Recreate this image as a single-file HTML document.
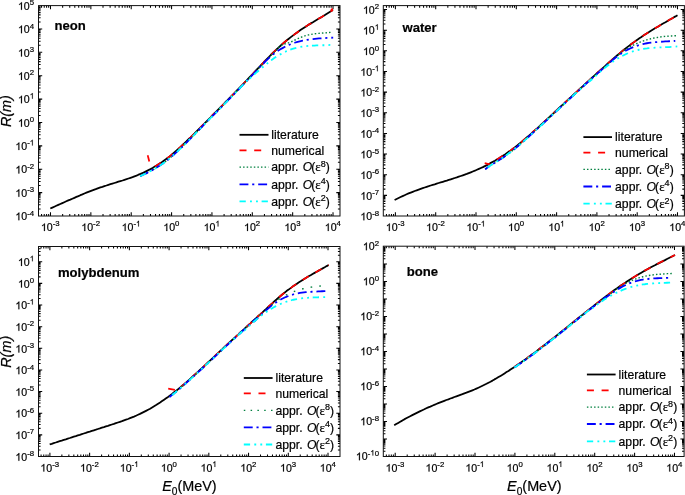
<!DOCTYPE html>
<html><head><meta charset="utf-8"><title>Range vs energy</title>
<style>
html,body{margin:0;padding:0;background:#fff;}
body{width:685px;height:495px;overflow:hidden;}
svg text{font-family:"Liberation Sans",sans-serif;fill:#000;stroke:#000;stroke-width:0.2px;}
</style></head><body>
<svg width="685" height="495" viewBox="0 0 685 495" style="display:block;will-change:transform;opacity:0.999">
<rect width="685" height="495" fill="#fff"/>
<g><path d="M41.55 216.00v-2.10M41.55 5.60v2.10M44.25 216.00v-2.10M44.25 5.60v2.10M46.59 216.00v-2.10M46.59 5.60v2.10M48.65 216.00v-2.10M48.65 5.60v2.10M50.50 216.00v-3.70M50.50 5.60v3.70M62.65 216.00v-2.10M62.65 5.60v2.10M69.76 216.00v-2.10M69.76 5.60v2.10M74.80 216.00v-2.10M74.80 5.60v2.10M78.71 216.00v-2.10M78.71 5.60v2.10M81.91 216.00v-2.10M81.91 5.60v2.10M84.61 216.00v-2.10M84.61 5.60v2.10M86.95 216.00v-2.10M86.95 5.60v2.10M89.01 216.00v-2.10M89.01 5.60v2.10M90.86 216.00v-3.70M90.86 5.60v3.70M103.01 216.00v-2.10M103.01 5.60v2.10M110.12 216.00v-2.10M110.12 5.60v2.10M115.16 216.00v-2.10M115.16 5.60v2.10M119.07 216.00v-2.10M119.07 5.60v2.10M122.27 216.00v-2.10M122.27 5.60v2.10M124.97 216.00v-2.10M124.97 5.60v2.10M127.31 216.00v-2.10M127.31 5.60v2.10M129.37 216.00v-2.10M129.37 5.60v2.10M131.22 216.00v-3.70M131.22 5.60v3.70M143.37 216.00v-2.10M143.37 5.60v2.10M150.48 216.00v-2.10M150.48 5.60v2.10M155.52 216.00v-2.10M155.52 5.60v2.10M159.43 216.00v-2.10M159.43 5.60v2.10M162.63 216.00v-2.10M162.63 5.60v2.10M165.33 216.00v-2.10M165.33 5.60v2.10M167.67 216.00v-2.10M167.67 5.60v2.10M169.73 216.00v-2.10M169.73 5.60v2.10M171.58 216.00v-3.70M171.58 5.60v3.70M183.73 216.00v-2.10M183.73 5.60v2.10M190.84 216.00v-2.10M190.84 5.60v2.10M195.88 216.00v-2.10M195.88 5.60v2.10M199.79 216.00v-2.10M199.79 5.60v2.10M202.99 216.00v-2.10M202.99 5.60v2.10M205.69 216.00v-2.10M205.69 5.60v2.10M208.03 216.00v-2.10M208.03 5.60v2.10M210.09 216.00v-2.10M210.09 5.60v2.10M211.94 216.00v-3.70M211.94 5.60v3.70M224.09 216.00v-2.10M224.09 5.60v2.10M231.20 216.00v-2.10M231.20 5.60v2.10M236.24 216.00v-2.10M236.24 5.60v2.10M240.15 216.00v-2.10M240.15 5.60v2.10M243.35 216.00v-2.10M243.35 5.60v2.10M246.05 216.00v-2.10M246.05 5.60v2.10M248.39 216.00v-2.10M248.39 5.60v2.10M250.45 216.00v-2.10M250.45 5.60v2.10M252.30 216.00v-3.70M252.30 5.60v3.70M264.45 216.00v-2.10M264.45 5.60v2.10M271.56 216.00v-2.10M271.56 5.60v2.10M276.60 216.00v-2.10M276.60 5.60v2.10M280.51 216.00v-2.10M280.51 5.60v2.10M283.71 216.00v-2.10M283.71 5.60v2.10M286.41 216.00v-2.10M286.41 5.60v2.10M288.75 216.00v-2.10M288.75 5.60v2.10M290.81 216.00v-2.10M290.81 5.60v2.10M292.66 216.00v-3.70M292.66 5.60v3.70M304.81 216.00v-2.10M304.81 5.60v2.10M311.92 216.00v-2.10M311.92 5.60v2.10M316.96 216.00v-2.10M316.96 5.60v2.10M320.87 216.00v-2.10M320.87 5.60v2.10M324.07 216.00v-2.10M324.07 5.60v2.10M326.77 216.00v-2.10M326.77 5.60v2.10M329.11 216.00v-2.10M329.11 5.60v2.10M331.17 216.00v-2.10M331.17 5.60v2.10M333.02 216.00v-3.70M333.02 5.60v3.70M38.50 208.96h2.10M340.00 208.96h-2.10M38.50 204.84h2.10M340.00 204.84h-2.10M38.50 201.92h2.10M340.00 201.92h-2.10M38.50 199.66h2.10M340.00 199.66h-2.10M38.50 197.81h2.10M340.00 197.81h-2.10M38.50 196.24h2.10M340.00 196.24h-2.10M38.50 194.89h2.10M340.00 194.89h-2.10M38.50 193.69h2.10M340.00 193.69h-2.10M38.50 192.62h3.70M340.00 192.62h-3.70M38.50 185.58h2.10M340.00 185.58h-2.10M38.50 181.46h2.10M340.00 181.46h-2.10M38.50 178.54h2.10M340.00 178.54h-2.10M38.50 176.28h2.10M340.00 176.28h-2.10M38.50 174.43h2.10M340.00 174.43h-2.10M38.50 172.86h2.10M340.00 172.86h-2.10M38.50 171.51h2.10M340.00 171.51h-2.10M38.50 170.31h2.10M340.00 170.31h-2.10M38.50 169.24h3.70M340.00 169.24h-3.70M38.50 162.20h2.10M340.00 162.20h-2.10M38.50 158.08h2.10M340.00 158.08h-2.10M38.50 155.16h2.10M340.00 155.16h-2.10M38.50 152.90h2.10M340.00 152.90h-2.10M38.50 151.05h2.10M340.00 151.05h-2.10M38.50 149.48h2.10M340.00 149.48h-2.10M38.50 148.13h2.10M340.00 148.13h-2.10M38.50 146.93h2.10M340.00 146.93h-2.10M38.50 145.86h3.70M340.00 145.86h-3.70M38.50 138.82h2.10M340.00 138.82h-2.10M38.50 134.70h2.10M340.00 134.70h-2.10M38.50 131.78h2.10M340.00 131.78h-2.10M38.50 129.52h2.10M340.00 129.52h-2.10M38.50 127.67h2.10M340.00 127.67h-2.10M38.50 126.10h2.10M340.00 126.10h-2.10M38.50 124.75h2.10M340.00 124.75h-2.10M38.50 123.55h2.10M340.00 123.55h-2.10M38.50 122.48h3.70M340.00 122.48h-3.70M38.50 115.44h2.10M340.00 115.44h-2.10M38.50 111.32h2.10M340.00 111.32h-2.10M38.50 108.40h2.10M340.00 108.40h-2.10M38.50 106.14h2.10M340.00 106.14h-2.10M38.50 104.29h2.10M340.00 104.29h-2.10M38.50 102.72h2.10M340.00 102.72h-2.10M38.50 101.37h2.10M340.00 101.37h-2.10M38.50 100.17h2.10M340.00 100.17h-2.10M38.50 99.10h3.70M340.00 99.10h-3.70M38.50 92.06h2.10M340.00 92.06h-2.10M38.50 87.94h2.10M340.00 87.94h-2.10M38.50 85.02h2.10M340.00 85.02h-2.10M38.50 82.76h2.10M340.00 82.76h-2.10M38.50 80.91h2.10M340.00 80.91h-2.10M38.50 79.34h2.10M340.00 79.34h-2.10M38.50 77.99h2.10M340.00 77.99h-2.10M38.50 76.79h2.10M340.00 76.79h-2.10M38.50 75.72h3.70M340.00 75.72h-3.70M38.50 68.68h2.10M340.00 68.68h-2.10M38.50 64.56h2.10M340.00 64.56h-2.10M38.50 61.64h2.10M340.00 61.64h-2.10M38.50 59.38h2.10M340.00 59.38h-2.10M38.50 57.53h2.10M340.00 57.53h-2.10M38.50 55.96h2.10M340.00 55.96h-2.10M38.50 54.61h2.10M340.00 54.61h-2.10M38.50 53.41h2.10M340.00 53.41h-2.10M38.50 52.34h3.70M340.00 52.34h-3.70M38.50 45.30h2.10M340.00 45.30h-2.10M38.50 41.18h2.10M340.00 41.18h-2.10M38.50 38.26h2.10M340.00 38.26h-2.10M38.50 36.00h2.10M340.00 36.00h-2.10M38.50 34.15h2.10M340.00 34.15h-2.10M38.50 32.58h2.10M340.00 32.58h-2.10M38.50 31.23h2.10M340.00 31.23h-2.10M38.50 30.03h2.10M340.00 30.03h-2.10M38.50 28.96h3.70M340.00 28.96h-3.70M38.50 21.92h2.10M340.00 21.92h-2.10M38.50 17.80h2.10M340.00 17.80h-2.10M38.50 14.88h2.10M340.00 14.88h-2.10M38.50 12.62h2.10M340.00 12.62h-2.10M38.50 10.77h2.10M340.00 10.77h-2.10M38.50 9.20h2.10M340.00 9.20h-2.10M38.50 7.85h2.10M340.00 7.85h-2.10M38.50 6.65h2.10M340.00 6.65h-2.10" stroke="#000" stroke-width="1.05" fill="none"/>
<rect x="38.50" y="5.60" width="301.50" height="210.40" fill="none" stroke="#111" stroke-width="1.00"/>
<path d="M763 0H583V1147Q518 1085 412.5 1023T223 930V1104Q374 1175 487 1276T647 1472H763Z" transform="translate(40.94 231.00) scale(0.00518 -0.00518)" fill="#000" stroke="#000" stroke-width="40"/><text x="46.83" y="231.00" font-size="10.6">0</text><text x="52.73" y="226.40" font-size="7.8">-3</text>
<path d="M763 0H583V1147Q518 1085 412.5 1023T223 930V1104Q374 1175 487 1276T647 1472H763Z" transform="translate(81.30 231.00) scale(0.00518 -0.00518)" fill="#000" stroke="#000" stroke-width="40"/><text x="87.19" y="231.00" font-size="10.6">0</text><text x="93.09" y="226.40" font-size="7.8">-2</text>
<path d="M763 0H583V1147Q518 1085 412.5 1023T223 930V1104Q374 1175 487 1276T647 1472H763Z" transform="translate(121.66 231.00) scale(0.00518 -0.00518)" fill="#000" stroke="#000" stroke-width="40"/><text x="127.55" y="231.00" font-size="10.6">0</text><text x="133.45" y="226.40" font-size="7.8">-</text><path d="M763 0H583V1147Q518 1085 412.5 1023T223 930V1104Q374 1175 487 1276T647 1472H763Z" transform="translate(136.04 226.40) scale(0.00381 -0.00381)" fill="#000" stroke="#000" stroke-width="40"/>
<path d="M763 0H583V1147Q518 1085 412.5 1023T223 930V1104Q374 1175 487 1276T647 1472H763Z" transform="translate(163.32 231.00) scale(0.00518 -0.00518)" fill="#000" stroke="#000" stroke-width="40"/><text x="169.21" y="231.00" font-size="10.6">0</text><text x="175.11" y="226.40" font-size="7.8">0</text>
<path d="M763 0H583V1147Q518 1085 412.5 1023T223 930V1104Q374 1175 487 1276T647 1472H763Z" transform="translate(203.68 231.00) scale(0.00518 -0.00518)" fill="#000" stroke="#000" stroke-width="40"/><text x="209.57" y="231.00" font-size="10.6">0</text><path d="M763 0H583V1147Q518 1085 412.5 1023T223 930V1104Q374 1175 487 1276T647 1472H763Z" transform="translate(215.47 226.40) scale(0.00381 -0.00381)" fill="#000" stroke="#000" stroke-width="40"/>
<path d="M763 0H583V1147Q518 1085 412.5 1023T223 930V1104Q374 1175 487 1276T647 1472H763Z" transform="translate(244.04 231.00) scale(0.00518 -0.00518)" fill="#000" stroke="#000" stroke-width="40"/><text x="249.93" y="231.00" font-size="10.6">0</text><text x="255.83" y="226.40" font-size="7.8">2</text>
<path d="M763 0H583V1147Q518 1085 412.5 1023T223 930V1104Q374 1175 487 1276T647 1472H763Z" transform="translate(284.40 231.00) scale(0.00518 -0.00518)" fill="#000" stroke="#000" stroke-width="40"/><text x="290.29" y="231.00" font-size="10.6">0</text><text x="296.19" y="226.40" font-size="7.8">3</text>
<path d="M763 0H583V1147Q518 1085 412.5 1023T223 930V1104Q374 1175 487 1276T647 1472H763Z" transform="translate(324.76 231.00) scale(0.00518 -0.00518)" fill="#000" stroke="#000" stroke-width="40"/><text x="330.65" y="231.00" font-size="10.6">0</text><text x="336.55" y="226.40" font-size="7.8">4</text>
<path d="M763 0H583V1147Q518 1085 412.5 1023T223 930V1104Q374 1175 487 1276T647 1472H763Z" transform="translate(15.38 220.20) scale(0.00518 -0.00518)" fill="#000" stroke="#000" stroke-width="40"/><text x="21.27" y="220.20" font-size="10.6">0</text><text x="27.17" y="215.60" font-size="7.8">-4</text>
<path d="M763 0H583V1147Q518 1085 412.5 1023T223 930V1104Q374 1175 487 1276T647 1472H763Z" transform="translate(15.38 196.82) scale(0.00518 -0.00518)" fill="#000" stroke="#000" stroke-width="40"/><text x="21.27" y="196.82" font-size="10.6">0</text><text x="27.17" y="192.22" font-size="7.8">-3</text>
<path d="M763 0H583V1147Q518 1085 412.5 1023T223 930V1104Q374 1175 487 1276T647 1472H763Z" transform="translate(15.38 173.44) scale(0.00518 -0.00518)" fill="#000" stroke="#000" stroke-width="40"/><text x="21.27" y="173.44" font-size="10.6">0</text><text x="27.17" y="168.84" font-size="7.8">-2</text>
<path d="M763 0H583V1147Q518 1085 412.5 1023T223 930V1104Q374 1175 487 1276T647 1472H763Z" transform="translate(15.38 150.06) scale(0.00518 -0.00518)" fill="#000" stroke="#000" stroke-width="40"/><text x="21.27" y="150.06" font-size="10.6">0</text><text x="27.17" y="145.46" font-size="7.8">-</text><path d="M763 0H583V1147Q518 1085 412.5 1023T223 930V1104Q374 1175 487 1276T647 1472H763Z" transform="translate(29.76 145.46) scale(0.00381 -0.00381)" fill="#000" stroke="#000" stroke-width="40"/>
<path d="M763 0H583V1147Q518 1085 412.5 1023T223 930V1104Q374 1175 487 1276T647 1472H763Z" transform="translate(17.98 126.68) scale(0.00518 -0.00518)" fill="#000" stroke="#000" stroke-width="40"/><text x="23.87" y="126.68" font-size="10.6">0</text><text x="29.76" y="122.08" font-size="7.8">0</text>
<path d="M763 0H583V1147Q518 1085 412.5 1023T223 930V1104Q374 1175 487 1276T647 1472H763Z" transform="translate(17.98 103.30) scale(0.00518 -0.00518)" fill="#000" stroke="#000" stroke-width="40"/><text x="23.87" y="103.30" font-size="10.6">0</text><path d="M763 0H583V1147Q518 1085 412.5 1023T223 930V1104Q374 1175 487 1276T647 1472H763Z" transform="translate(29.76 98.70) scale(0.00381 -0.00381)" fill="#000" stroke="#000" stroke-width="40"/>
<path d="M763 0H583V1147Q518 1085 412.5 1023T223 930V1104Q374 1175 487 1276T647 1472H763Z" transform="translate(17.98 79.92) scale(0.00518 -0.00518)" fill="#000" stroke="#000" stroke-width="40"/><text x="23.87" y="79.92" font-size="10.6">0</text><text x="29.76" y="75.32" font-size="7.8">2</text>
<path d="M763 0H583V1147Q518 1085 412.5 1023T223 930V1104Q374 1175 487 1276T647 1472H763Z" transform="translate(17.98 56.54) scale(0.00518 -0.00518)" fill="#000" stroke="#000" stroke-width="40"/><text x="23.87" y="56.54" font-size="10.6">0</text><text x="29.76" y="51.94" font-size="7.8">3</text>
<path d="M763 0H583V1147Q518 1085 412.5 1023T223 930V1104Q374 1175 487 1276T647 1472H763Z" transform="translate(17.98 33.16) scale(0.00518 -0.00518)" fill="#000" stroke="#000" stroke-width="40"/><text x="23.87" y="33.16" font-size="10.6">0</text><text x="29.76" y="28.56" font-size="7.8">4</text>
<path d="M763 0H583V1147Q518 1085 412.5 1023T223 930V1104Q374 1175 487 1276T647 1472H763Z" transform="translate(17.98 9.78) scale(0.00518 -0.00518)" fill="#000" stroke="#000" stroke-width="40"/><text x="23.87" y="9.78" font-size="10.6">0</text><text x="29.76" y="5.18" font-size="7.8">5</text>
<text x="54.6" y="29.7" font-size="13.1" font-weight="bold">neon</text>
<text transform="translate(10.6 111.1) rotate(-90)" text-anchor="middle" font-size="14.4" font-style="italic">R(m)</text>
<path d="M50.3 208.5 L52.3 207.6 L54.3 206.7 L56.3 205.8 L58.3 204.9 L60.3 204.0 L62.3 203.1 L64.3 202.2 L66.3 201.3 L68.3 200.4 L70.3 199.6 L72.3 198.7 L74.4 197.8 L76.4 196.9 L78.4 196.1 L80.4 195.2 L82.4 194.4 L84.4 193.5 L86.4 192.7 L88.4 191.9 L90.4 191.1 L92.4 190.3 L94.4 189.6 L96.4 188.9 L98.4 188.1 L100.4 187.4 L102.4 186.8 L104.4 186.1 L106.4 185.5 L108.4 184.8 L110.4 184.2 L112.4 183.6 L114.4 183.0 L116.4 182.4 L118.4 181.7 L120.4 181.1 L122.5 180.5 L124.5 179.8 L126.5 179.2 L128.5 178.5 L130.5 177.8 L132.5 177.1 L134.5 176.3 L136.5 175.6 L138.5 174.7 L140.5 173.9 L142.5 173.0 L144.5 172.1 L146.5 171.1 L148.5 170.1 L150.5 169.1 L152.5 168.0 L154.5 166.8 L156.5 165.6 L158.5 164.3 L160.5 163.0 L162.5 161.7 L164.5 160.2 L166.5 158.8 L168.6 157.2 L170.6 155.6 L172.6 153.9 L174.6 152.2 L176.6 150.5 L178.6 148.7 L180.6 146.9 L182.6 145.0 L184.6 143.1 L186.6 141.2 L188.6 139.2 L190.6 137.3 L192.6 135.3 L194.6 133.4 L196.6 131.4 L198.6 129.4 L200.6 127.4 L202.6 125.4 L204.6 123.4 L206.6 121.3 L208.6 119.3 L210.6 117.3 L212.6 115.2 L214.6 113.2 L216.7 111.2 L218.7 109.1 L220.7 107.1 L222.7 105.1 L224.7 103.0 L226.7 101.0 L228.7 98.9 L230.7 96.9 L232.7 94.8 L234.7 92.8 L236.7 90.7 L238.7 88.7 L240.7 86.6 L242.7 84.5 L244.7 82.4 L246.7 80.3 L248.7 78.2 L250.7 76.1 L252.7 74.0 L254.7 71.9 L256.7 69.7 L258.7 67.6 L260.7 65.5 L262.8 63.4 L264.8 61.2 L266.8 59.1 L268.8 57.1 L270.8 55.0 L272.8 53.0 L274.8 51.1 L276.8 49.2 L278.8 47.3 L280.8 45.5 L282.8 43.7 L284.8 42.0 L286.8 40.3 L288.8 38.7 L290.8 37.1 L292.8 35.6 L294.8 34.1 L296.8 32.7 L298.8 31.2 L300.8 29.8 L302.8 28.5 L304.8 27.2 L306.8 25.9 L308.8 24.6 L310.9 23.4 L312.9 22.2 L314.9 20.9 L316.9 19.7 L318.9 18.5 L320.9 17.4 L322.9 16.2 L324.9 15.0 L326.9 13.7 L328.9 12.5 L330.9 11.3 L332.9 10.0" stroke="#000" stroke-width="1.8" fill="none" stroke-linejoin="round"/>
<path d="M147.7 155.2 L149.3 161.5" stroke="#ff0000" stroke-width="1.7" fill="none"/>
<path d="M155.0 166.5 L156.5 165.6 L158.5 164.3 L160.5 163.0 L162.5 161.7 L164.5 160.2 L166.5 158.8 L168.6 157.2 L170.6 155.6 L172.6 153.9 L174.6 152.2 L176.6 150.5 L178.6 148.7 L180.6 146.9 L182.6 145.0 L184.6 143.1 L186.6 141.2 L188.6 139.2 L190.6 137.3 L192.6 135.3 L194.6 133.4 L196.6 131.4 L198.6 129.4 L200.6 127.4 L202.6 125.4 L204.6 123.4 L206.6 121.3 L208.6 119.3 L210.6 117.3 L212.6 115.2 L214.6 113.2 L216.7 111.2 L218.7 109.1 L220.7 107.1 L222.7 105.1 L224.7 103.0 L226.7 101.0 L228.7 98.9 L230.7 96.9 L232.7 94.8 L234.7 92.8 L236.7 90.7 L238.7 88.7 L240.7 86.6 L242.7 84.5 L244.7 82.4 L246.7 80.3 L248.7 78.2 L250.7 76.1 L252.7 74.0 L254.7 71.9 L256.7 69.7 L258.7 67.6 L260.7 65.5 L262.8 63.4 L264.8 61.2 L266.8 59.1 L268.8 57.1 L270.8 55.0 L272.8 53.0 L274.8 51.1 L276.8 49.2 L278.8 47.3 L280.8 45.5 L282.8 43.7 L284.8 42.0 L286.8 40.3 L288.8 38.7 L290.8 37.1 L292.8 35.6 L294.8 34.1 L296.8 32.7 L298.8 31.2 L300.8 29.8 L302.8 28.5 L304.8 27.2 L306.8 25.9 L308.8 24.6 L310.9 23.4 L312.9 22.2 L314.9 20.9 L316.9 19.7 L318.9 18.5 L320.9 17.4 L322.9 16.2 L324.9 15.0 L326.9 13.7 L328.9 12.5 L330.9 11.3 L332.9 10.0" stroke="#ff0000" stroke-width="1.7" fill="none" stroke-dasharray="7 7.7" stroke-dashoffset="0"/>
<path d="M330.9 10.6 L332.6 8.4" stroke="#ff0000" stroke-width="1.7" fill="none"/>
<path d="M139.9 175.8 L141.9 174.9 L143.9 173.9 L145.9 173.0 L147.9 171.9 L149.9 170.9 L151.9 169.8 L153.9 168.7 L155.9 167.5 L157.9 166.2 L159.9 164.9 L161.9 163.6 L163.9 162.2 L165.9 160.7 L167.9 159.1 L169.9 157.4 L171.9 155.7 L173.9 153.9 L175.9 152.1 L177.9 150.3 L179.9 148.4 L181.9 146.5 L183.9 144.5 L185.9 142.5 L187.9 140.5 L189.9 138.5 L191.9 136.5 L193.9 134.5 L195.9 132.4 L197.9 130.4 L199.9 128.3 L201.9 126.2 L203.9 124.1 L205.0 123.0 L205.0 123.0 L206.6 121.3 L208.6 119.3 L210.6 117.3 L212.6 115.2 L214.6 113.2 L216.7 111.2 L218.7 109.1 L220.7 107.1 L222.7 105.1 L224.7 103.0 L226.7 101.0 L228.7 98.9 L230.7 96.9 L232.7 94.8 L234.7 92.8 L236.7 90.7 L238.7 88.7 L240.7 86.6 L242.7 84.5 L244.7 82.4 L246.7 80.3 L248.7 78.2 L250.7 76.1 L252.7 74.0 L254.7 71.9 L256.7 69.7 L258.7 67.6 L260.7 65.5 L262.8 63.4 L264.8 61.2 L266.8 59.1 L268.8 57.1 L270.8 55.0 L272.8 53.0 L274.8 51.1 L276.8 49.2 L277.9 48.1 L277.9 47.6 L279.9 45.8 L282.0 44.6 L284.0 43.8 L286.0 43.2 L288.1 42.5 L290.1 41.8 L292.1 40.9 L294.2 39.9 L296.2 38.9 L298.2 38.0 L300.3 37.1 L302.3 36.3 L304.4 35.6 L306.4 35.0 L308.4 34.5 L310.5 34.1 L312.5 33.7 L314.5 33.4 L316.6 33.2 L318.6 33.0 L320.6 32.9 L322.7 32.7 L324.7 32.5 L326.7 32.4 L328.8 32.2 L330.8 32.0" stroke="#00803f" stroke-width="1.4" fill="none" stroke-dasharray="1.5 2.08" stroke-dashoffset="0" transform="translate(0.3 0.35)"/>
<path d="M139.9 175.8 L141.9 174.9 L143.9 173.9 L145.9 173.0 L147.9 171.9 L149.9 170.9 L151.9 169.8 L153.9 168.7 L155.9 167.5 L157.9 166.2 L159.9 164.9 L161.9 163.6 L163.9 162.2 L165.9 160.7 L167.9 159.1 L169.9 157.4 L171.9 155.7 L173.9 153.9 L175.9 152.1 L177.9 150.3 L179.9 148.4 L181.9 146.5 L183.9 144.5 L185.9 142.5 L187.9 140.5 L189.9 138.5 L191.9 136.5 L193.9 134.5 L195.9 132.4 L197.9 130.4 L199.9 128.3 L201.9 126.2 L203.9 124.1 L205.0 123.0 L205.0 123.0 L206.6 121.3 L208.6 119.3 L210.6 117.3 L212.6 115.2 L214.6 113.2 L216.7 111.2 L218.7 109.1 L220.7 107.1 L222.7 105.1 L224.7 103.0 L226.7 101.0 L228.7 98.9 L230.7 96.9 L232.7 94.8 L234.7 92.8 L236.7 90.7 L238.7 88.7 L240.7 86.6 L242.7 84.5 L244.7 82.4 L246.7 80.3 L248.7 78.2 L250.7 76.1 L252.7 74.0 L254.7 71.9 L256.7 69.7 L258.7 67.6 L260.7 65.5 L262.8 63.4 L263.9 62.2 L263.9 62.3 L265.9 60.2 L268.0 58.3 L270.0 56.4 L272.0 54.7 L274.0 53.1 L276.1 51.6 L278.1 50.2 L280.1 49.0 L282.2 47.8 L284.2 46.7 L286.2 45.7 L288.3 44.7 L290.3 43.9 L292.3 43.1 L294.3 42.4 L296.4 41.8 L298.4 41.2 L300.4 40.7 L302.5 40.3 L304.5 39.9 L306.5 39.5 L308.5 39.2 L310.6 38.9 L312.6 38.7 L314.6 38.5 L316.7 38.3 L318.7 38.1 L320.7 38.0 L322.8 37.9 L324.8 37.8 L326.8 37.6 L328.8 37.5 L330.9 37.4 L332.9 37.3" stroke="#0000ff" stroke-width="1.8" fill="none" stroke-dasharray="8.9 3.8 2.1 3.9" stroke-dashoffset="0" transform="translate(0.3 0.35)"/>
<path d="M139.9 175.8 L141.9 174.9 L143.9 173.9 L145.9 173.0 L147.9 171.9 L149.9 170.9 L151.9 169.8 L153.9 168.7 L155.9 167.5 L157.9 166.2 L159.9 164.9 L161.9 163.6 L163.9 162.2 L165.9 160.7 L167.9 159.1 L169.9 157.4 L171.9 155.7 L173.9 153.9 L175.9 152.1 L177.9 150.3 L179.9 148.4 L181.9 146.5 L183.9 144.5 L185.9 142.5 L187.9 140.5 L189.9 138.5 L191.9 136.5 L193.9 134.5 L195.9 132.4 L197.9 130.4 L199.9 128.3 L201.9 126.2 L203.9 124.1 L205.0 123.0 L205.0 123.0 L206.6 121.3 L208.6 119.3 L210.6 117.3 L212.6 115.2 L214.6 113.2 L216.7 111.2 L218.7 109.1 L220.7 107.1 L222.7 105.1 L224.7 103.0 L226.7 101.0 L228.7 98.9 L230.7 96.9 L232.7 94.8 L234.7 92.8 L236.7 90.7 L238.7 88.7 L240.7 86.6 L242.7 84.5 L244.7 82.4 L246.7 80.3 L248.7 78.2 L250.0 76.9 L250.0 77.6 L252.0 75.9 L254.0 74.1 L256.0 72.3 L258.0 70.6 L260.0 68.8 L262.0 67.1 L264.0 65.4 L266.0 63.8 L268.0 62.2 L270.0 60.6 L272.0 59.1 L274.0 57.7 L276.0 56.4 L278.0 55.2 L280.0 54.0 L282.0 52.9 L284.0 51.9 L286.0 50.9 L288.0 50.1 L290.1 49.3 L292.1 48.6 L294.1 48.0 L296.1 47.5 L298.1 47.0 L300.1 46.6 L302.1 46.3 L304.1 46.0 L306.1 45.8 L308.1 45.6 L310.1 45.4 L312.1 45.3 L314.1 45.2 L316.1 45.1 L318.1 45.1 L320.1 45.0 L322.1 44.9 L324.1 44.9 L326.1 44.8 L328.1 44.7 L330.1 44.6" stroke="#00ffff" stroke-width="1.8" fill="none" stroke-dasharray="6.3 4.2 1.9 4.1 1.9 3.7" stroke-dashoffset="0" transform="translate(0.3 0.35)"/>
<path d="M239.5 134.8H268.5" stroke="#000" stroke-width="1.8"/>
<text x="271.3" y="139.1" font-size="12.2">literature</text>
<path d="M239.5 150.4H268.5" stroke="#ff0000" stroke-width="1.7" stroke-dasharray="7 7.7"/>
<text x="271.3" y="154.7" font-size="12.2">numerical</text>
<path d="M239.5 167.1H268.5" stroke="#00803f" stroke-width="1.4" stroke-dasharray="1.5 2.08"/>
<text x="271.3" y="171.4" font-size="12.2">appr. <tspan font-style="italic" dx="0.9">O</tspan><tspan dx="-0.9">(</tspan><tspan font-family="Liberation Serif" font-size="13">ε</tspan><tspan dy="-4.4" font-size="9">8</tspan><tspan dy="4.4">)</tspan></text>
<path d="M239.5 184.3H268.5" stroke="#0000ff" stroke-width="1.8" stroke-dasharray="8.9 3.8 2.1 3.9"/>
<text x="271.3" y="188.6" font-size="12.2">appr. <tspan font-style="italic" dx="0.9">O</tspan><tspan dx="-0.9">(</tspan><tspan font-family="Liberation Serif" font-size="13">ε</tspan><tspan dy="-4.4" font-size="9">4</tspan><tspan dy="4.4">)</tspan></text>
<path d="M239.5 201.4H268.5" stroke="#00ffff" stroke-width="1.8" stroke-dasharray="6.3 4.2 1.9 4.1 1.9 3.7"/>
<text x="271.3" y="205.7" font-size="12.2">appr. <tspan font-style="italic" dx="0.9">O</tspan><tspan dx="-0.9">(</tspan><tspan font-family="Liberation Serif" font-size="13">ε</tspan><tspan dy="-4.4" font-size="9">2</tspan><tspan dy="4.4">)</tspan></text></g>
<g><path d="M386.46 216.00v-2.10M386.46 5.60v2.10M389.16 216.00v-2.10M389.16 5.60v2.10M391.49 216.00v-2.10M391.49 5.60v2.10M393.56 216.00v-2.10M393.56 5.60v2.10M395.40 216.00v-3.70M395.40 5.60v3.70M407.53 216.00v-2.10M407.53 5.60v2.10M414.63 216.00v-2.10M414.63 5.60v2.10M419.66 216.00v-2.10M419.66 5.60v2.10M423.57 216.00v-2.10M423.57 5.60v2.10M426.76 216.00v-2.10M426.76 5.60v2.10M429.46 216.00v-2.10M429.46 5.60v2.10M431.79 216.00v-2.10M431.79 5.60v2.10M433.86 216.00v-2.10M433.86 5.60v2.10M435.70 216.00v-3.70M435.70 5.60v3.70M447.83 216.00v-2.10M447.83 5.60v2.10M454.93 216.00v-2.10M454.93 5.60v2.10M459.96 216.00v-2.10M459.96 5.60v2.10M463.87 216.00v-2.10M463.87 5.60v2.10M467.06 216.00v-2.10M467.06 5.60v2.10M469.76 216.00v-2.10M469.76 5.60v2.10M472.09 216.00v-2.10M472.09 5.60v2.10M474.16 216.00v-2.10M474.16 5.60v2.10M476.00 216.00v-3.70M476.00 5.60v3.70M488.13 216.00v-2.10M488.13 5.60v2.10M495.23 216.00v-2.10M495.23 5.60v2.10M500.26 216.00v-2.10M500.26 5.60v2.10M504.17 216.00v-2.10M504.17 5.60v2.10M507.36 216.00v-2.10M507.36 5.60v2.10M510.06 216.00v-2.10M510.06 5.60v2.10M512.39 216.00v-2.10M512.39 5.60v2.10M514.46 216.00v-2.10M514.46 5.60v2.10M516.30 216.00v-3.70M516.30 5.60v3.70M528.43 216.00v-2.10M528.43 5.60v2.10M535.53 216.00v-2.10M535.53 5.60v2.10M540.56 216.00v-2.10M540.56 5.60v2.10M544.47 216.00v-2.10M544.47 5.60v2.10M547.66 216.00v-2.10M547.66 5.60v2.10M550.36 216.00v-2.10M550.36 5.60v2.10M552.69 216.00v-2.10M552.69 5.60v2.10M554.76 216.00v-2.10M554.76 5.60v2.10M556.60 216.00v-3.70M556.60 5.60v3.70M568.73 216.00v-2.10M568.73 5.60v2.10M575.83 216.00v-2.10M575.83 5.60v2.10M580.86 216.00v-2.10M580.86 5.60v2.10M584.77 216.00v-2.10M584.77 5.60v2.10M587.96 216.00v-2.10M587.96 5.60v2.10M590.66 216.00v-2.10M590.66 5.60v2.10M592.99 216.00v-2.10M592.99 5.60v2.10M595.06 216.00v-2.10M595.06 5.60v2.10M596.90 216.00v-3.70M596.90 5.60v3.70M609.03 216.00v-2.10M609.03 5.60v2.10M616.13 216.00v-2.10M616.13 5.60v2.10M621.16 216.00v-2.10M621.16 5.60v2.10M625.07 216.00v-2.10M625.07 5.60v2.10M628.26 216.00v-2.10M628.26 5.60v2.10M630.96 216.00v-2.10M630.96 5.60v2.10M633.29 216.00v-2.10M633.29 5.60v2.10M635.36 216.00v-2.10M635.36 5.60v2.10M637.20 216.00v-3.70M637.20 5.60v3.70M649.33 216.00v-2.10M649.33 5.60v2.10M656.43 216.00v-2.10M656.43 5.60v2.10M661.46 216.00v-2.10M661.46 5.60v2.10M665.37 216.00v-2.10M665.37 5.60v2.10M668.56 216.00v-2.10M668.56 5.60v2.10M671.26 216.00v-2.10M671.26 5.60v2.10M673.59 216.00v-2.10M673.59 5.60v2.10M675.66 216.00v-2.10M675.66 5.60v2.10M677.50 216.00v-3.70M677.50 5.60v3.70M383.30 209.78h2.10M684.40 209.78h-2.10M383.30 206.15h2.10M684.40 206.15h-2.10M383.30 203.57h2.10M684.40 203.57h-2.10M383.30 201.57h2.10M684.40 201.57h-2.10M383.30 199.93h2.10M684.40 199.93h-2.10M383.30 198.55h2.10M684.40 198.55h-2.10M383.30 197.35h2.10M684.40 197.35h-2.10M383.30 196.29h2.10M684.40 196.29h-2.10M383.30 195.35h3.70M684.40 195.35h-3.70M383.30 189.13h2.10M684.40 189.13h-2.10M383.30 185.50h2.10M684.40 185.50h-2.10M383.30 182.92h2.10M684.40 182.92h-2.10M383.30 180.92h2.10M684.40 180.92h-2.10M383.30 179.28h2.10M684.40 179.28h-2.10M383.30 177.90h2.10M684.40 177.90h-2.10M383.30 176.70h2.10M684.40 176.70h-2.10M383.30 175.64h2.10M684.40 175.64h-2.10M383.30 174.70h3.70M684.40 174.70h-3.70M383.30 168.48h2.10M684.40 168.48h-2.10M383.30 164.85h2.10M684.40 164.85h-2.10M383.30 162.27h2.10M684.40 162.27h-2.10M383.30 160.27h2.10M684.40 160.27h-2.10M383.30 158.63h2.10M684.40 158.63h-2.10M383.30 157.25h2.10M684.40 157.25h-2.10M383.30 156.05h2.10M684.40 156.05h-2.10M383.30 154.99h2.10M684.40 154.99h-2.10M383.30 154.05h3.70M684.40 154.05h-3.70M383.30 147.83h2.10M684.40 147.83h-2.10M383.30 144.20h2.10M684.40 144.20h-2.10M383.30 141.62h2.10M684.40 141.62h-2.10M383.30 139.62h2.10M684.40 139.62h-2.10M383.30 137.98h2.10M684.40 137.98h-2.10M383.30 136.60h2.10M684.40 136.60h-2.10M383.30 135.40h2.10M684.40 135.40h-2.10M383.30 134.34h2.10M684.40 134.34h-2.10M383.30 133.40h3.70M684.40 133.40h-3.70M383.30 127.18h2.10M684.40 127.18h-2.10M383.30 123.55h2.10M684.40 123.55h-2.10M383.30 120.97h2.10M684.40 120.97h-2.10M383.30 118.97h2.10M684.40 118.97h-2.10M383.30 117.33h2.10M684.40 117.33h-2.10M383.30 115.95h2.10M684.40 115.95h-2.10M383.30 114.75h2.10M684.40 114.75h-2.10M383.30 113.69h2.10M684.40 113.69h-2.10M383.30 112.75h3.70M684.40 112.75h-3.70M383.30 106.53h2.10M684.40 106.53h-2.10M383.30 102.90h2.10M684.40 102.90h-2.10M383.30 100.32h2.10M684.40 100.32h-2.10M383.30 98.32h2.10M684.40 98.32h-2.10M383.30 96.68h2.10M684.40 96.68h-2.10M383.30 95.30h2.10M684.40 95.30h-2.10M383.30 94.10h2.10M684.40 94.10h-2.10M383.30 93.04h2.10M684.40 93.04h-2.10M383.30 92.10h3.70M684.40 92.10h-3.70M383.30 85.88h2.10M684.40 85.88h-2.10M383.30 82.25h2.10M684.40 82.25h-2.10M383.30 79.67h2.10M684.40 79.67h-2.10M383.30 77.67h2.10M684.40 77.67h-2.10M383.30 76.03h2.10M684.40 76.03h-2.10M383.30 74.65h2.10M684.40 74.65h-2.10M383.30 73.45h2.10M684.40 73.45h-2.10M383.30 72.39h2.10M684.40 72.39h-2.10M383.30 71.45h3.70M684.40 71.45h-3.70M383.30 65.23h2.10M684.40 65.23h-2.10M383.30 61.60h2.10M684.40 61.60h-2.10M383.30 59.02h2.10M684.40 59.02h-2.10M383.30 57.02h2.10M684.40 57.02h-2.10M383.30 55.38h2.10M684.40 55.38h-2.10M383.30 54.00h2.10M684.40 54.00h-2.10M383.30 52.80h2.10M684.40 52.80h-2.10M383.30 51.74h2.10M684.40 51.74h-2.10M383.30 50.80h3.70M684.40 50.80h-3.70M383.30 44.58h2.10M684.40 44.58h-2.10M383.30 40.95h2.10M684.40 40.95h-2.10M383.30 38.37h2.10M684.40 38.37h-2.10M383.30 36.37h2.10M684.40 36.37h-2.10M383.30 34.73h2.10M684.40 34.73h-2.10M383.30 33.35h2.10M684.40 33.35h-2.10M383.30 32.15h2.10M684.40 32.15h-2.10M383.30 31.09h2.10M684.40 31.09h-2.10M383.30 30.15h3.70M684.40 30.15h-3.70M383.30 23.93h2.10M684.40 23.93h-2.10M383.30 20.30h2.10M684.40 20.30h-2.10M383.30 17.72h2.10M684.40 17.72h-2.10M383.30 15.72h2.10M684.40 15.72h-2.10M383.30 14.08h2.10M684.40 14.08h-2.10M383.30 12.70h2.10M684.40 12.70h-2.10M383.30 11.50h2.10M684.40 11.50h-2.10M383.30 10.44h2.10M684.40 10.44h-2.10M383.30 9.50h3.70M684.40 9.50h-3.70" stroke="#000" stroke-width="1.05" fill="none"/>
<rect x="383.30" y="5.60" width="301.10" height="210.40" fill="none" stroke="#111" stroke-width="1.00"/>
<path d="M763 0H583V1147Q518 1085 412.5 1023T223 930V1104Q374 1175 487 1276T647 1472H763Z" transform="translate(385.84 231.00) scale(0.00518 -0.00518)" fill="#000" stroke="#000" stroke-width="40"/><text x="391.73" y="231.00" font-size="10.6">0</text><text x="397.63" y="226.40" font-size="7.8">-3</text>
<path d="M763 0H583V1147Q518 1085 412.5 1023T223 930V1104Q374 1175 487 1276T647 1472H763Z" transform="translate(426.14 231.00) scale(0.00518 -0.00518)" fill="#000" stroke="#000" stroke-width="40"/><text x="432.03" y="231.00" font-size="10.6">0</text><text x="437.93" y="226.40" font-size="7.8">-2</text>
<path d="M763 0H583V1147Q518 1085 412.5 1023T223 930V1104Q374 1175 487 1276T647 1472H763Z" transform="translate(466.44 231.00) scale(0.00518 -0.00518)" fill="#000" stroke="#000" stroke-width="40"/><text x="472.33" y="231.00" font-size="10.6">0</text><text x="478.23" y="226.40" font-size="7.8">-</text><path d="M763 0H583V1147Q518 1085 412.5 1023T223 930V1104Q374 1175 487 1276T647 1472H763Z" transform="translate(480.82 226.40) scale(0.00381 -0.00381)" fill="#000" stroke="#000" stroke-width="40"/>
<path d="M763 0H583V1147Q518 1085 412.5 1023T223 930V1104Q374 1175 487 1276T647 1472H763Z" transform="translate(508.04 231.00) scale(0.00518 -0.00518)" fill="#000" stroke="#000" stroke-width="40"/><text x="513.93" y="231.00" font-size="10.6">0</text><text x="519.83" y="226.40" font-size="7.8">0</text>
<path d="M763 0H583V1147Q518 1085 412.5 1023T223 930V1104Q374 1175 487 1276T647 1472H763Z" transform="translate(548.34 231.00) scale(0.00518 -0.00518)" fill="#000" stroke="#000" stroke-width="40"/><text x="554.23" y="231.00" font-size="10.6">0</text><path d="M763 0H583V1147Q518 1085 412.5 1023T223 930V1104Q374 1175 487 1276T647 1472H763Z" transform="translate(560.13 226.40) scale(0.00381 -0.00381)" fill="#000" stroke="#000" stroke-width="40"/>
<path d="M763 0H583V1147Q518 1085 412.5 1023T223 930V1104Q374 1175 487 1276T647 1472H763Z" transform="translate(588.64 231.00) scale(0.00518 -0.00518)" fill="#000" stroke="#000" stroke-width="40"/><text x="594.53" y="231.00" font-size="10.6">0</text><text x="600.43" y="226.40" font-size="7.8">2</text>
<path d="M763 0H583V1147Q518 1085 412.5 1023T223 930V1104Q374 1175 487 1276T647 1472H763Z" transform="translate(628.94 231.00) scale(0.00518 -0.00518)" fill="#000" stroke="#000" stroke-width="40"/><text x="634.83" y="231.00" font-size="10.6">0</text><text x="640.73" y="226.40" font-size="7.8">3</text>
<path d="M763 0H583V1147Q518 1085 412.5 1023T223 930V1104Q374 1175 487 1276T647 1472H763Z" transform="translate(669.24 231.00) scale(0.00518 -0.00518)" fill="#000" stroke="#000" stroke-width="40"/><text x="675.13" y="231.00" font-size="10.6">0</text><text x="681.03" y="226.40" font-size="7.8">4</text>
<path d="M763 0H583V1147Q518 1085 412.5 1023T223 930V1104Q374 1175 487 1276T647 1472H763Z" transform="translate(360.38 220.30) scale(0.00518 -0.00518)" fill="#000" stroke="#000" stroke-width="40"/><text x="366.27" y="220.30" font-size="10.6">0</text><text x="372.17" y="215.70" font-size="7.8">-8</text>
<path d="M763 0H583V1147Q518 1085 412.5 1023T223 930V1104Q374 1175 487 1276T647 1472H763Z" transform="translate(360.38 199.65) scale(0.00518 -0.00518)" fill="#000" stroke="#000" stroke-width="40"/><text x="366.27" y="199.65" font-size="10.6">0</text><text x="372.17" y="195.05" font-size="7.8">-7</text>
<path d="M763 0H583V1147Q518 1085 412.5 1023T223 930V1104Q374 1175 487 1276T647 1472H763Z" transform="translate(360.38 179.00) scale(0.00518 -0.00518)" fill="#000" stroke="#000" stroke-width="40"/><text x="366.27" y="179.00" font-size="10.6">0</text><text x="372.17" y="174.40" font-size="7.8">-6</text>
<path d="M763 0H583V1147Q518 1085 412.5 1023T223 930V1104Q374 1175 487 1276T647 1472H763Z" transform="translate(360.38 158.35) scale(0.00518 -0.00518)" fill="#000" stroke="#000" stroke-width="40"/><text x="366.27" y="158.35" font-size="10.6">0</text><text x="372.17" y="153.75" font-size="7.8">-5</text>
<path d="M763 0H583V1147Q518 1085 412.5 1023T223 930V1104Q374 1175 487 1276T647 1472H763Z" transform="translate(360.38 137.70) scale(0.00518 -0.00518)" fill="#000" stroke="#000" stroke-width="40"/><text x="366.27" y="137.70" font-size="10.6">0</text><text x="372.17" y="133.10" font-size="7.8">-4</text>
<path d="M763 0H583V1147Q518 1085 412.5 1023T223 930V1104Q374 1175 487 1276T647 1472H763Z" transform="translate(360.38 117.05) scale(0.00518 -0.00518)" fill="#000" stroke="#000" stroke-width="40"/><text x="366.27" y="117.05" font-size="10.6">0</text><text x="372.17" y="112.45" font-size="7.8">-3</text>
<path d="M763 0H583V1147Q518 1085 412.5 1023T223 930V1104Q374 1175 487 1276T647 1472H763Z" transform="translate(360.38 96.40) scale(0.00518 -0.00518)" fill="#000" stroke="#000" stroke-width="40"/><text x="366.27" y="96.40" font-size="10.6">0</text><text x="372.17" y="91.80" font-size="7.8">-2</text>
<path d="M763 0H583V1147Q518 1085 412.5 1023T223 930V1104Q374 1175 487 1276T647 1472H763Z" transform="translate(360.38 75.75) scale(0.00518 -0.00518)" fill="#000" stroke="#000" stroke-width="40"/><text x="366.27" y="75.75" font-size="10.6">0</text><text x="372.17" y="71.15" font-size="7.8">-</text><path d="M763 0H583V1147Q518 1085 412.5 1023T223 930V1104Q374 1175 487 1276T647 1472H763Z" transform="translate(374.76 71.15) scale(0.00381 -0.00381)" fill="#000" stroke="#000" stroke-width="40"/>
<path d="M763 0H583V1147Q518 1085 412.5 1023T223 930V1104Q374 1175 487 1276T647 1472H763Z" transform="translate(362.98 55.10) scale(0.00518 -0.00518)" fill="#000" stroke="#000" stroke-width="40"/><text x="368.87" y="55.10" font-size="10.6">0</text><text x="374.76" y="50.50" font-size="7.8">0</text>
<path d="M763 0H583V1147Q518 1085 412.5 1023T223 930V1104Q374 1175 487 1276T647 1472H763Z" transform="translate(362.98 34.45) scale(0.00518 -0.00518)" fill="#000" stroke="#000" stroke-width="40"/><text x="368.87" y="34.45" font-size="10.6">0</text><path d="M763 0H583V1147Q518 1085 412.5 1023T223 930V1104Q374 1175 487 1276T647 1472H763Z" transform="translate(374.76 29.85) scale(0.00381 -0.00381)" fill="#000" stroke="#000" stroke-width="40"/>
<path d="M763 0H583V1147Q518 1085 412.5 1023T223 930V1104Q374 1175 487 1276T647 1472H763Z" transform="translate(362.98 13.80) scale(0.00518 -0.00518)" fill="#000" stroke="#000" stroke-width="40"/><text x="368.87" y="13.80" font-size="10.6">0</text><text x="374.76" y="9.20" font-size="7.8">2</text>
<text x="402.5" y="32.2" font-size="13.1" font-weight="bold">water</text>
<path d="M394.6 200.0 L396.6 199.0 L398.6 198.0 L400.6 197.0 L402.6 196.1 L404.6 195.2 L406.6 194.3 L408.6 193.4 L410.7 192.6 L412.7 191.8 L414.7 191.0 L416.7 190.3 L418.7 189.6 L420.7 188.9 L422.7 188.2 L424.7 187.5 L426.7 186.8 L428.7 186.2 L430.7 185.5 L432.7 184.9 L434.7 184.3 L436.7 183.6 L438.7 183.0 L440.7 182.4 L442.8 181.8 L444.8 181.2 L446.8 180.6 L448.8 179.9 L450.8 179.3 L452.8 178.7 L454.8 178.0 L456.8 177.4 L458.8 176.7 L460.8 176.0 L462.8 175.3 L464.8 174.6 L466.8 173.9 L468.8 173.1 L470.8 172.3 L472.8 171.5 L474.9 170.7 L476.9 169.8 L478.9 168.9 L480.9 168.0 L482.9 167.1 L484.9 166.1 L486.9 165.1 L488.9 164.0 L490.9 162.9 L492.9 161.8 L494.9 160.7 L496.9 159.5 L498.9 158.3 L500.9 157.0 L502.9 155.7 L505.0 154.4 L507.0 153.0 L509.0 151.6 L511.0 150.2 L513.0 148.7 L515.0 147.2 L517.0 145.6 L519.0 144.0 L521.0 142.4 L523.0 140.7 L525.0 139.0 L527.0 137.3 L529.0 135.6 L531.0 133.8 L533.0 132.0 L535.0 130.2 L537.1 128.4 L539.1 126.6 L541.1 124.7 L543.1 122.9 L545.1 121.0 L547.1 119.2 L549.1 117.3 L551.1 115.4 L553.1 113.6 L555.1 111.7 L557.1 109.9 L559.1 108.0 L561.1 106.1 L563.1 104.3 L565.1 102.4 L567.1 100.6 L569.2 98.7 L571.2 96.8 L573.2 95.0 L575.2 93.1 L577.2 91.3 L579.2 89.5 L581.2 87.6 L583.2 85.8 L585.2 83.9 L587.2 82.1 L589.2 80.3 L591.2 78.5 L593.2 76.6 L595.2 74.8 L597.2 73.0 L599.3 71.2 L601.3 69.4 L603.3 67.6 L605.3 65.8 L607.3 64.0 L609.3 62.2 L611.3 60.5 L613.3 58.7 L615.3 57.0 L617.3 55.3 L619.3 53.6 L621.3 51.9 L623.3 50.3 L625.3 48.7 L627.3 47.1 L629.3 45.6 L631.4 44.0 L633.4 42.6 L635.4 41.1 L637.4 39.7 L639.4 38.3 L641.4 37.0 L643.4 35.6 L645.4 34.3 L647.4 33.0 L649.4 31.8 L651.4 30.5 L653.4 29.3 L655.4 28.1 L657.4 26.9 L659.4 25.7 L661.4 24.5 L663.5 23.3 L665.5 22.2 L667.5 21.0 L669.5 19.8 L671.5 18.7 L673.5 17.5 L675.5 16.4 L677.5 15.2" stroke="#000" stroke-width="1.8" fill="none" stroke-linejoin="round"/>
<path d="M484.7 163.1 L490.8 164.6" stroke="#ff0000" stroke-width="1.7" fill="none"/>
<path d="M490.8 163.0 L490.9 162.9 L492.9 161.8 L494.9 160.7 L496.9 159.5 L498.9 158.3 L500.9 157.0 L502.9 155.7 L505.0 154.4 L507.0 153.0 L509.0 151.6 L511.0 150.2 L513.0 148.7 L515.0 147.2 L517.0 145.6 L519.0 144.0 L521.0 142.4 L523.0 140.7 L525.0 139.0 L527.0 137.3 L529.0 135.6 L531.0 133.8 L533.0 132.0 L535.0 130.2 L537.1 128.4 L539.1 126.6 L541.1 124.7 L543.1 122.9 L545.1 121.0 L547.1 119.2 L549.1 117.3 L551.1 115.4 L553.1 113.6 L555.1 111.7 L557.1 109.9 L559.1 108.0 L561.1 106.1 L563.1 104.3 L565.1 102.4 L567.1 100.6 L569.2 98.7 L571.2 96.8 L573.2 95.0 L575.2 93.1 L577.2 91.3 L579.2 89.5 L581.2 87.6 L583.2 85.8 L585.2 83.9 L587.2 82.1 L589.2 80.3 L591.2 78.5 L593.2 76.6 L595.2 74.8 L597.2 73.0 L599.3 71.2 L601.3 69.4 L603.3 67.6 L605.3 65.8 L607.3 64.0 L609.3 62.2 L611.3 60.5 L613.3 58.7 L615.3 57.0 L617.3 55.3 L619.3 53.6 L621.3 51.9 L623.3 50.3 L625.3 48.7 L627.3 47.1 L629.3 45.6 L631.4 44.0 L633.4 42.6 L635.4 41.1 L637.4 39.7 L639.4 38.3 L641.4 37.0 L643.4 35.6 L645.4 34.3 L647.4 33.0 L649.4 31.8 L651.4 30.5 L653.4 29.3 L655.4 28.1 L657.4 26.9 L659.4 25.7 L661.4 24.5 L663.5 23.3 L665.5 22.2 L667.5 21.0 L669.5 19.8 L671.5 18.7 L673.5 17.5 L675.5 16.4 L677.5 15.2" stroke="#ff0000" stroke-width="1.7" fill="none" stroke-dasharray="7 7.7" stroke-dashoffset="-7"/>
<path d="M484.9 168.9 L486.9 167.4 L488.9 165.9 L490.9 164.5 L492.9 163.4 L494.9 162.2 L496.9 161.0 L498.9 159.7 L500.9 158.4 L502.9 157.1 L504.9 155.6 L506.9 154.2 L508.9 152.7 L510.9 151.2 L512.9 149.6 L514.9 148.0 L516.9 146.4 L518.9 144.7 L520.9 143.0 L522.9 141.3 L524.9 139.5 L526.9 137.7 L528.9 135.9 L530.9 134.1 L532.9 132.2 L534.9 130.3 L535.0 130.2 L535.0 130.2 L535.0 130.2 L537.1 128.4 L539.1 126.6 L541.1 124.7 L543.1 122.9 L545.1 121.0 L547.1 119.2 L549.1 117.3 L551.1 115.4 L553.1 113.6 L555.1 111.7 L557.1 109.9 L559.1 108.0 L561.1 106.1 L563.1 104.3 L565.1 102.4 L567.1 100.6 L569.2 98.7 L571.2 96.8 L573.2 95.0 L575.2 93.1 L577.2 91.3 L579.2 89.5 L581.2 87.6 L583.2 85.8 L585.2 83.9 L587.2 82.1 L589.2 80.3 L591.2 78.5 L593.2 76.6 L595.2 74.8 L597.2 73.0 L599.3 71.2 L601.3 69.4 L603.3 67.6 L605.3 65.8 L607.3 64.0 L609.3 62.2 L611.3 60.5 L613.3 58.7 L615.3 57.0 L617.3 55.3 L619.3 53.6 L621.3 51.9 L623.3 50.3 L624.0 49.8 L624.0 49.8 L626.0 48.6 L628.1 47.4 L630.1 46.2 L632.2 45.2 L634.2 44.2 L636.2 43.3 L638.3 42.4 L640.3 41.6 L642.3 40.9 L644.4 40.2 L646.4 39.5 L648.5 39.0 L650.5 38.4 L652.5 38.0 L654.6 37.5 L656.6 37.2 L658.7 36.8 L660.7 36.5 L662.7 36.3 L664.8 36.0 L666.8 35.9 L668.8 35.7 L670.9 35.6 L672.9 35.5 L675.0 35.4 L677.0 35.4" stroke="#00803f" stroke-width="1.4" fill="none" stroke-dasharray="1.5 2.08" stroke-dashoffset="0" transform="translate(0.3 0.35)"/>
<path d="M484.9 168.9 L486.9 167.4 L488.9 165.9 L490.9 164.5 L492.9 163.4 L494.9 162.2 L496.9 161.0 L498.9 159.7 L500.9 158.4 L502.9 157.1 L504.9 155.6 L506.9 154.2 L508.9 152.7 L510.9 151.2 L512.9 149.6 L514.9 148.0 L516.9 146.4 L518.9 144.7 L520.9 143.0 L522.9 141.3 L524.9 139.5 L526.9 137.7 L528.9 135.9 L530.9 134.1 L532.9 132.2 L534.9 130.3 L535.0 130.2 L535.0 130.2 L535.0 130.2 L537.1 128.4 L539.1 126.6 L541.1 124.7 L543.1 122.9 L545.1 121.0 L547.1 119.2 L549.1 117.3 L551.1 115.4 L553.1 113.6 L555.1 111.7 L557.1 109.9 L559.1 108.0 L561.1 106.1 L563.1 104.3 L565.1 102.4 L567.1 100.6 L569.2 98.7 L571.2 96.8 L573.2 95.0 L575.2 93.1 L577.2 91.3 L579.2 89.5 L581.2 87.6 L583.2 85.8 L585.2 83.9 L587.2 82.1 L589.2 80.3 L591.2 78.5 L593.2 76.6 L595.2 74.8 L597.2 73.0 L599.3 71.2 L601.3 69.4 L603.3 67.6 L605.3 65.8 L607.3 64.0 L608.1 63.3 L608.1 63.5 L610.1 61.6 L612.2 59.8 L614.2 58.1 L616.2 56.5 L618.2 55.0 L620.3 53.6 L622.3 52.3 L624.3 51.0 L626.3 49.9 L628.4 48.8 L630.4 47.9 L632.4 47.0 L634.5 46.2 L636.5 45.5 L638.5 44.8 L640.5 44.2 L642.6 43.7 L644.6 43.3 L646.6 42.9 L648.6 42.6 L650.7 42.3 L652.7 42.1 L654.7 41.8 L656.8 41.7 L658.8 41.5 L660.8 41.4 L662.8 41.3 L664.9 41.1 L666.9 41.0 L668.9 40.9 L670.9 40.8 L673.0 40.7 L675.0 40.5" stroke="#0000ff" stroke-width="1.8" fill="none" stroke-dasharray="8.9 3.8 2.1 3.9" stroke-dashoffset="3" transform="translate(0.3 0.35)"/>
<path d="M484.9 168.9 L486.9 167.4 L488.9 165.9 L490.9 164.5 L492.9 163.4 L494.9 162.2 L496.9 161.0 L498.9 159.7 L500.9 158.4 L502.9 157.1 L504.9 155.6 L506.9 154.2 L508.9 152.7 L510.9 151.2 L512.9 149.6 L514.9 148.0 L516.9 146.4 L518.9 144.7 L520.9 143.0 L522.9 141.3 L524.9 139.5 L526.9 137.7 L528.9 135.9 L530.9 134.1 L532.9 132.2 L534.9 130.3 L535.0 130.2 L535.0 130.2 L535.0 130.2 L537.1 128.4 L539.1 126.6 L541.1 124.7 L543.1 122.9 L545.1 121.0 L547.1 119.2 L549.1 117.3 L551.1 115.4 L553.1 113.6 L555.1 111.7 L557.1 109.9 L559.1 108.0 L561.1 106.1 L563.1 104.3 L565.1 102.4 L567.1 100.6 L569.2 98.7 L571.2 96.8 L573.2 95.0 L575.2 93.1 L577.2 91.3 L579.2 89.5 L581.2 87.6 L583.2 85.8 L585.2 83.9 L587.2 82.1 L589.2 80.3 L590.0 79.6 L590.0 80.5 L592.0 78.7 L594.0 76.8 L596.1 74.9 L598.1 73.1 L600.1 71.3 L602.1 69.5 L604.2 67.8 L606.2 66.2 L608.2 64.6 L610.2 63.0 L612.3 61.5 L614.3 60.1 L616.3 58.8 L618.3 57.6 L620.3 56.4 L622.4 55.4 L624.4 54.4 L626.4 53.4 L628.4 52.6 L630.5 51.8 L632.5 51.1 L634.5 50.5 L636.5 49.9 L638.6 49.4 L640.6 49.0 L642.6 48.6 L644.6 48.3 L646.7 48.1 L648.7 47.8 L650.7 47.6 L652.7 47.5 L654.7 47.3 L656.8 47.2 L658.8 47.1 L660.8 47.0 L662.8 46.9 L664.9 46.8 L666.9 46.7 L668.9 46.7 L670.9 46.5 L673.0 46.4 L675.0 46.3 L677.0 46.1" stroke="#00ffff" stroke-width="1.8" fill="none" stroke-dasharray="6.3 4.2 1.9 4.1 1.9 3.7" stroke-dashoffset="-3" transform="translate(0.3 0.35)"/>
<path d="M583.4 137.1H612.0" stroke="#000" stroke-width="1.8"/>
<text x="615.1" y="141.4" font-size="12.2">literature</text>
<path d="M583.4 152.6H612.0" stroke="#ff0000" stroke-width="1.7" stroke-dasharray="7 7.7"/>
<text x="615.1" y="156.9" font-size="12.2">numerical</text>
<path d="M583.4 169.4H612.0" stroke="#00803f" stroke-width="1.4" stroke-dasharray="1.5 2.08"/>
<text x="615.1" y="173.7" font-size="12.2">appr. <tspan font-style="italic" dx="0.9">O</tspan><tspan dx="-0.9">(</tspan><tspan font-family="Liberation Serif" font-size="13">ε</tspan><tspan dy="-4.4" font-size="9">8</tspan><tspan dy="4.4">)</tspan></text>
<path d="M583.4 186.5H612.0" stroke="#0000ff" stroke-width="1.8" stroke-dasharray="8.9 3.8 2.1 3.9"/>
<text x="615.1" y="190.8" font-size="12.2">appr. <tspan font-style="italic" dx="0.9">O</tspan><tspan dx="-0.9">(</tspan><tspan font-family="Liberation Serif" font-size="13">ε</tspan><tspan dy="-4.4" font-size="9">4</tspan><tspan dy="4.4">)</tspan></text>
<path d="M583.4 203.7H612.0" stroke="#00ffff" stroke-width="1.8" stroke-dasharray="6.3 4.2 1.9 4.1 1.9 3.7"/>
<text x="615.1" y="208.0" font-size="12.2">appr. <tspan font-style="italic" dx="0.9">O</tspan><tspan dx="-0.9">(</tspan><tspan font-family="Liberation Serif" font-size="13">ε</tspan><tspan dy="-4.4" font-size="9">2</tspan><tspan dy="4.4">)</tspan></text></g>
<g><path d="M41.09 456.50v-2.10M41.09 246.50v2.10M43.75 456.50v-2.10M43.75 246.50v2.10M46.05 456.50v-2.10M46.05 246.50v2.10M48.08 456.50v-2.10M48.08 246.50v2.10M49.90 456.50v-3.70M49.90 246.50v3.70M61.86 456.50v-2.10M61.86 246.50v2.10M68.86 456.50v-2.10M68.86 246.50v2.10M73.82 456.50v-2.10M73.82 246.50v2.10M77.67 456.50v-2.10M77.67 246.50v2.10M80.82 456.50v-2.10M80.82 246.50v2.10M83.48 456.50v-2.10M83.48 246.50v2.10M85.78 456.50v-2.10M85.78 246.50v2.10M87.81 456.50v-2.10M87.81 246.50v2.10M89.63 456.50v-3.70M89.63 246.50v3.70M101.59 456.50v-2.10M101.59 246.50v2.10M108.59 456.50v-2.10M108.59 246.50v2.10M113.55 456.50v-2.10M113.55 246.50v2.10M117.40 456.50v-2.10M117.40 246.50v2.10M120.55 456.50v-2.10M120.55 246.50v2.10M123.21 456.50v-2.10M123.21 246.50v2.10M125.51 456.50v-2.10M125.51 246.50v2.10M127.54 456.50v-2.10M127.54 246.50v2.10M129.36 456.50v-3.70M129.36 246.50v3.70M141.32 456.50v-2.10M141.32 246.50v2.10M148.32 456.50v-2.10M148.32 246.50v2.10M153.28 456.50v-2.10M153.28 246.50v2.10M157.13 456.50v-2.10M157.13 246.50v2.10M160.28 456.50v-2.10M160.28 246.50v2.10M162.94 456.50v-2.10M162.94 246.50v2.10M165.24 456.50v-2.10M165.24 246.50v2.10M167.27 456.50v-2.10M167.27 246.50v2.10M169.09 456.50v-3.70M169.09 246.50v3.70M181.05 456.50v-2.10M181.05 246.50v2.10M188.05 456.50v-2.10M188.05 246.50v2.10M193.01 456.50v-2.10M193.01 246.50v2.10M196.86 456.50v-2.10M196.86 246.50v2.10M200.01 456.50v-2.10M200.01 246.50v2.10M202.67 456.50v-2.10M202.67 246.50v2.10M204.97 456.50v-2.10M204.97 246.50v2.10M207.00 456.50v-2.10M207.00 246.50v2.10M208.82 456.50v-3.70M208.82 246.50v3.70M220.78 456.50v-2.10M220.78 246.50v2.10M227.78 456.50v-2.10M227.78 246.50v2.10M232.74 456.50v-2.10M232.74 246.50v2.10M236.59 456.50v-2.10M236.59 246.50v2.10M239.74 456.50v-2.10M239.74 246.50v2.10M242.40 456.50v-2.10M242.40 246.50v2.10M244.70 456.50v-2.10M244.70 246.50v2.10M246.73 456.50v-2.10M246.73 246.50v2.10M248.55 456.50v-3.70M248.55 246.50v3.70M260.51 456.50v-2.10M260.51 246.50v2.10M267.51 456.50v-2.10M267.51 246.50v2.10M272.47 456.50v-2.10M272.47 246.50v2.10M276.32 456.50v-2.10M276.32 246.50v2.10M279.47 456.50v-2.10M279.47 246.50v2.10M282.13 456.50v-2.10M282.13 246.50v2.10M284.43 456.50v-2.10M284.43 246.50v2.10M286.46 456.50v-2.10M286.46 246.50v2.10M288.28 456.50v-3.70M288.28 246.50v3.70M300.24 456.50v-2.10M300.24 246.50v2.10M307.24 456.50v-2.10M307.24 246.50v2.10M312.20 456.50v-2.10M312.20 246.50v2.10M316.05 456.50v-2.10M316.05 246.50v2.10M319.20 456.50v-2.10M319.20 246.50v2.10M321.86 456.50v-2.10M321.86 246.50v2.10M324.16 456.50v-2.10M324.16 246.50v2.10M326.19 456.50v-2.10M326.19 246.50v2.10M328.01 456.50v-3.70M328.01 246.50v3.70M38.50 449.99h2.10M340.00 449.99h-2.10M38.50 446.18h2.10M340.00 446.18h-2.10M38.50 443.47h2.10M340.00 443.47h-2.10M38.50 441.37h2.10M340.00 441.37h-2.10M38.50 439.66h2.10M340.00 439.66h-2.10M38.50 438.21h2.10M340.00 438.21h-2.10M38.50 436.96h2.10M340.00 436.96h-2.10M38.50 435.85h2.10M340.00 435.85h-2.10M38.50 434.86h3.70M340.00 434.86h-3.70M38.50 428.35h2.10M340.00 428.35h-2.10M38.50 424.54h2.10M340.00 424.54h-2.10M38.50 421.83h2.10M340.00 421.83h-2.10M38.50 419.73h2.10M340.00 419.73h-2.10M38.50 418.02h2.10M340.00 418.02h-2.10M38.50 416.57h2.10M340.00 416.57h-2.10M38.50 415.32h2.10M340.00 415.32h-2.10M38.50 414.21h2.10M340.00 414.21h-2.10M38.50 413.22h3.70M340.00 413.22h-3.70M38.50 406.71h2.10M340.00 406.71h-2.10M38.50 402.90h2.10M340.00 402.90h-2.10M38.50 400.19h2.10M340.00 400.19h-2.10M38.50 398.09h2.10M340.00 398.09h-2.10M38.50 396.38h2.10M340.00 396.38h-2.10M38.50 394.93h2.10M340.00 394.93h-2.10M38.50 393.68h2.10M340.00 393.68h-2.10M38.50 392.57h2.10M340.00 392.57h-2.10M38.50 391.58h3.70M340.00 391.58h-3.70M38.50 385.07h2.10M340.00 385.07h-2.10M38.50 381.26h2.10M340.00 381.26h-2.10M38.50 378.55h2.10M340.00 378.55h-2.10M38.50 376.45h2.10M340.00 376.45h-2.10M38.50 374.74h2.10M340.00 374.74h-2.10M38.50 373.29h2.10M340.00 373.29h-2.10M38.50 372.04h2.10M340.00 372.04h-2.10M38.50 370.93h2.10M340.00 370.93h-2.10M38.50 369.94h3.70M340.00 369.94h-3.70M38.50 363.43h2.10M340.00 363.43h-2.10M38.50 359.62h2.10M340.00 359.62h-2.10M38.50 356.91h2.10M340.00 356.91h-2.10M38.50 354.81h2.10M340.00 354.81h-2.10M38.50 353.10h2.10M340.00 353.10h-2.10M38.50 351.65h2.10M340.00 351.65h-2.10M38.50 350.40h2.10M340.00 350.40h-2.10M38.50 349.29h2.10M340.00 349.29h-2.10M38.50 348.30h3.70M340.00 348.30h-3.70M38.50 341.79h2.10M340.00 341.79h-2.10M38.50 337.98h2.10M340.00 337.98h-2.10M38.50 335.27h2.10M340.00 335.27h-2.10M38.50 333.17h2.10M340.00 333.17h-2.10M38.50 331.46h2.10M340.00 331.46h-2.10M38.50 330.01h2.10M340.00 330.01h-2.10M38.50 328.76h2.10M340.00 328.76h-2.10M38.50 327.65h2.10M340.00 327.65h-2.10M38.50 326.66h3.70M340.00 326.66h-3.70M38.50 320.15h2.10M340.00 320.15h-2.10M38.50 316.34h2.10M340.00 316.34h-2.10M38.50 313.63h2.10M340.00 313.63h-2.10M38.50 311.53h2.10M340.00 311.53h-2.10M38.50 309.82h2.10M340.00 309.82h-2.10M38.50 308.37h2.10M340.00 308.37h-2.10M38.50 307.12h2.10M340.00 307.12h-2.10M38.50 306.01h2.10M340.00 306.01h-2.10M38.50 305.02h3.70M340.00 305.02h-3.70M38.50 298.51h2.10M340.00 298.51h-2.10M38.50 294.70h2.10M340.00 294.70h-2.10M38.50 291.99h2.10M340.00 291.99h-2.10M38.50 289.89h2.10M340.00 289.89h-2.10M38.50 288.18h2.10M340.00 288.18h-2.10M38.50 286.73h2.10M340.00 286.73h-2.10M38.50 285.48h2.10M340.00 285.48h-2.10M38.50 284.37h2.10M340.00 284.37h-2.10M38.50 283.38h3.70M340.00 283.38h-3.70M38.50 276.87h2.10M340.00 276.87h-2.10M38.50 273.06h2.10M340.00 273.06h-2.10M38.50 270.35h2.10M340.00 270.35h-2.10M38.50 268.25h2.10M340.00 268.25h-2.10M38.50 266.54h2.10M340.00 266.54h-2.10M38.50 265.09h2.10M340.00 265.09h-2.10M38.50 263.84h2.10M340.00 263.84h-2.10M38.50 262.73h2.10M340.00 262.73h-2.10M38.50 261.74h3.70M340.00 261.74h-3.70M38.50 255.23h2.10M340.00 255.23h-2.10M38.50 251.42h2.10M340.00 251.42h-2.10M38.50 248.71h2.10M340.00 248.71h-2.10" stroke="#000" stroke-width="1.05" fill="none"/>
<rect x="38.50" y="246.50" width="301.50" height="210.00" fill="none" stroke="#111" stroke-width="1.00"/>
<path d="M763 0H583V1147Q518 1085 412.5 1023T223 930V1104Q374 1175 487 1276T647 1472H763Z" transform="translate(40.34 471.50) scale(0.00518 -0.00518)" fill="#000" stroke="#000" stroke-width="40"/><text x="46.23" y="471.50" font-size="10.6">0</text><text x="52.13" y="466.90" font-size="7.8">-3</text>
<path d="M763 0H583V1147Q518 1085 412.5 1023T223 930V1104Q374 1175 487 1276T647 1472H763Z" transform="translate(80.07 471.50) scale(0.00518 -0.00518)" fill="#000" stroke="#000" stroke-width="40"/><text x="85.96" y="471.50" font-size="10.6">0</text><text x="91.86" y="466.90" font-size="7.8">-2</text>
<path d="M763 0H583V1147Q518 1085 412.5 1023T223 930V1104Q374 1175 487 1276T647 1472H763Z" transform="translate(119.80 471.50) scale(0.00518 -0.00518)" fill="#000" stroke="#000" stroke-width="40"/><text x="125.69" y="471.50" font-size="10.6">0</text><text x="131.59" y="466.90" font-size="7.8">-</text><path d="M763 0H583V1147Q518 1085 412.5 1023T223 930V1104Q374 1175 487 1276T647 1472H763Z" transform="translate(134.18 466.90) scale(0.00381 -0.00381)" fill="#000" stroke="#000" stroke-width="40"/>
<path d="M763 0H583V1147Q518 1085 412.5 1023T223 930V1104Q374 1175 487 1276T647 1472H763Z" transform="translate(160.83 471.50) scale(0.00518 -0.00518)" fill="#000" stroke="#000" stroke-width="40"/><text x="166.72" y="471.50" font-size="10.6">0</text><text x="172.62" y="466.90" font-size="7.8">0</text>
<path d="M763 0H583V1147Q518 1085 412.5 1023T223 930V1104Q374 1175 487 1276T647 1472H763Z" transform="translate(200.56 471.50) scale(0.00518 -0.00518)" fill="#000" stroke="#000" stroke-width="40"/><text x="206.45" y="471.50" font-size="10.6">0</text><path d="M763 0H583V1147Q518 1085 412.5 1023T223 930V1104Q374 1175 487 1276T647 1472H763Z" transform="translate(212.35 466.90) scale(0.00381 -0.00381)" fill="#000" stroke="#000" stroke-width="40"/>
<path d="M763 0H583V1147Q518 1085 412.5 1023T223 930V1104Q374 1175 487 1276T647 1472H763Z" transform="translate(240.29 471.50) scale(0.00518 -0.00518)" fill="#000" stroke="#000" stroke-width="40"/><text x="246.18" y="471.50" font-size="10.6">0</text><text x="252.08" y="466.90" font-size="7.8">2</text>
<path d="M763 0H583V1147Q518 1085 412.5 1023T223 930V1104Q374 1175 487 1276T647 1472H763Z" transform="translate(280.02 471.50) scale(0.00518 -0.00518)" fill="#000" stroke="#000" stroke-width="40"/><text x="285.91" y="471.50" font-size="10.6">0</text><text x="291.81" y="466.90" font-size="7.8">3</text>
<path d="M763 0H583V1147Q518 1085 412.5 1023T223 930V1104Q374 1175 487 1276T647 1472H763Z" transform="translate(319.75 471.50) scale(0.00518 -0.00518)" fill="#000" stroke="#000" stroke-width="40"/><text x="325.64" y="471.50" font-size="10.6">0</text><text x="331.54" y="466.90" font-size="7.8">4</text>
<path d="M763 0H583V1147Q518 1085 412.5 1023T223 930V1104Q374 1175 487 1276T647 1472H763Z" transform="translate(15.38 460.70) scale(0.00518 -0.00518)" fill="#000" stroke="#000" stroke-width="40"/><text x="21.27" y="460.70" font-size="10.6">0</text><text x="27.17" y="456.10" font-size="7.8">-8</text>
<path d="M763 0H583V1147Q518 1085 412.5 1023T223 930V1104Q374 1175 487 1276T647 1472H763Z" transform="translate(15.38 439.06) scale(0.00518 -0.00518)" fill="#000" stroke="#000" stroke-width="40"/><text x="21.27" y="439.06" font-size="10.6">0</text><text x="27.17" y="434.46" font-size="7.8">-7</text>
<path d="M763 0H583V1147Q518 1085 412.5 1023T223 930V1104Q374 1175 487 1276T647 1472H763Z" transform="translate(15.38 417.42) scale(0.00518 -0.00518)" fill="#000" stroke="#000" stroke-width="40"/><text x="21.27" y="417.42" font-size="10.6">0</text><text x="27.17" y="412.82" font-size="7.8">-6</text>
<path d="M763 0H583V1147Q518 1085 412.5 1023T223 930V1104Q374 1175 487 1276T647 1472H763Z" transform="translate(15.38 395.78) scale(0.00518 -0.00518)" fill="#000" stroke="#000" stroke-width="40"/><text x="21.27" y="395.78" font-size="10.6">0</text><text x="27.17" y="391.18" font-size="7.8">-5</text>
<path d="M763 0H583V1147Q518 1085 412.5 1023T223 930V1104Q374 1175 487 1276T647 1472H763Z" transform="translate(15.38 374.14) scale(0.00518 -0.00518)" fill="#000" stroke="#000" stroke-width="40"/><text x="21.27" y="374.14" font-size="10.6">0</text><text x="27.17" y="369.54" font-size="7.8">-4</text>
<path d="M763 0H583V1147Q518 1085 412.5 1023T223 930V1104Q374 1175 487 1276T647 1472H763Z" transform="translate(15.38 352.50) scale(0.00518 -0.00518)" fill="#000" stroke="#000" stroke-width="40"/><text x="21.27" y="352.50" font-size="10.6">0</text><text x="27.17" y="347.90" font-size="7.8">-3</text>
<path d="M763 0H583V1147Q518 1085 412.5 1023T223 930V1104Q374 1175 487 1276T647 1472H763Z" transform="translate(15.38 330.86) scale(0.00518 -0.00518)" fill="#000" stroke="#000" stroke-width="40"/><text x="21.27" y="330.86" font-size="10.6">0</text><text x="27.17" y="326.26" font-size="7.8">-2</text>
<path d="M763 0H583V1147Q518 1085 412.5 1023T223 930V1104Q374 1175 487 1276T647 1472H763Z" transform="translate(15.38 309.22) scale(0.00518 -0.00518)" fill="#000" stroke="#000" stroke-width="40"/><text x="21.27" y="309.22" font-size="10.6">0</text><text x="27.17" y="304.62" font-size="7.8">-</text><path d="M763 0H583V1147Q518 1085 412.5 1023T223 930V1104Q374 1175 487 1276T647 1472H763Z" transform="translate(29.76 304.62) scale(0.00381 -0.00381)" fill="#000" stroke="#000" stroke-width="40"/>
<path d="M763 0H583V1147Q518 1085 412.5 1023T223 930V1104Q374 1175 487 1276T647 1472H763Z" transform="translate(17.98 287.58) scale(0.00518 -0.00518)" fill="#000" stroke="#000" stroke-width="40"/><text x="23.87" y="287.58" font-size="10.6">0</text><text x="29.76" y="282.98" font-size="7.8">0</text>
<path d="M763 0H583V1147Q518 1085 412.5 1023T223 930V1104Q374 1175 487 1276T647 1472H763Z" transform="translate(17.98 265.94) scale(0.00518 -0.00518)" fill="#000" stroke="#000" stroke-width="40"/><text x="23.87" y="265.94" font-size="10.6">0</text><path d="M763 0H583V1147Q518 1085 412.5 1023T223 930V1104Q374 1175 487 1276T647 1472H763Z" transform="translate(29.76 261.34) scale(0.00381 -0.00381)" fill="#000" stroke="#000" stroke-width="40"/>
<text x="57.9" y="277.1" font-size="13.1" font-weight="bold">molybdenum</text>
<text transform="translate(10.6 351.8) rotate(-90)" text-anchor="middle" font-size="14.4" font-style="italic">R(m)</text>
<text x="189.4" y="490.8" text-anchor="middle" font-size="14.4"><tspan font-style="italic">E</tspan><tspan dy="4.4" font-size="10.2">0</tspan><tspan dy="-4.4">(MeV)</tspan></text>
<path d="M49.7 444.4 L51.7 443.8 L53.7 443.1 L55.7 442.5 L57.7 441.8 L59.7 441.2 L61.7 440.6 L63.8 439.9 L65.8 439.3 L67.8 438.6 L69.8 438.0 L71.8 437.3 L73.8 436.7 L75.8 436.1 L77.8 435.4 L79.8 434.8 L81.8 434.1 L83.8 433.5 L85.8 432.9 L87.8 432.2 L89.8 431.6 L91.9 430.9 L93.9 430.3 L95.9 429.7 L97.9 429.0 L99.9 428.4 L101.9 427.7 L103.9 427.1 L105.9 426.4 L107.9 425.8 L109.9 425.1 L111.9 424.5 L113.9 423.9 L115.9 423.2 L117.9 422.5 L120.0 421.8 L122.0 421.2 L124.0 420.4 L126.0 419.7 L128.0 419.0 L130.0 418.2 L132.0 417.4 L134.0 416.6 L136.0 415.7 L138.0 414.8 L140.0 413.9 L142.0 412.9 L144.0 411.9 L146.0 410.9 L148.1 409.8 L150.1 408.7 L152.1 407.5 L154.1 406.3 L156.1 405.1 L158.1 403.8 L160.1 402.5 L162.1 401.1 L164.1 399.7 L166.1 398.3 L168.1 396.9 L170.1 395.4 L172.1 393.9 L174.1 392.3 L176.2 390.7 L178.2 389.1 L180.2 387.5 L182.2 385.8 L184.2 384.1 L186.2 382.4 L188.2 380.6 L190.2 378.8 L192.2 377.0 L194.2 375.2 L196.2 373.4 L198.2 371.6 L200.2 369.7 L202.2 367.9 L204.3 366.0 L206.3 364.1 L208.3 362.2 L210.3 360.3 L212.3 358.5 L214.3 356.6 L216.3 354.7 L218.3 352.8 L220.3 350.9 L222.3 349.1 L224.3 347.2 L226.3 345.3 L228.3 343.5 L230.3 341.6 L232.4 339.8 L234.4 337.9 L236.4 336.1 L238.4 334.3 L240.4 332.4 L242.4 330.6 L244.4 328.8 L246.4 326.9 L248.4 325.1 L250.4 323.3 L252.4 321.4 L254.4 319.6 L256.4 317.8 L258.4 315.9 L260.5 314.1 L262.5 312.3 L264.5 310.4 L266.5 308.6 L268.5 306.7 L270.5 304.9 L272.5 303.1 L274.5 301.2 L276.5 299.5 L278.5 297.7 L280.5 296.0 L282.5 294.3 L284.5 292.7 L286.5 291.1 L288.6 289.6 L290.6 288.1 L292.6 286.6 L294.6 285.2 L296.6 283.9 L298.6 282.5 L300.6 281.3 L302.6 280.0 L304.6 278.8 L306.6 277.5 L308.6 276.3 L310.6 275.2 L312.6 274.0 L314.6 272.9 L316.7 271.7 L318.7 270.6 L320.7 269.5 L322.7 268.4 L324.7 267.3 L326.7 266.1 L328.7 265.0" stroke="#000" stroke-width="1.8" fill="none" stroke-linejoin="round"/>
<path d="M168.2 388.6 L174.9 389.9" stroke="#ff0000" stroke-width="1.7" fill="none"/>
<path d="M175.0 391.6 L176.2 390.7 L178.2 389.1 L180.2 387.5 L182.2 385.8 L184.2 384.1 L186.2 382.4 L188.2 380.6 L190.2 378.8 L192.2 377.0 L194.2 375.2 L196.2 373.4 L198.2 371.6 L200.2 369.7 L202.2 367.9 L204.3 366.0 L206.3 364.1 L208.3 362.2 L210.3 360.3 L212.3 358.5 L214.3 356.6 L216.3 354.7 L218.3 352.8 L220.3 350.9 L222.3 349.1 L224.3 347.2 L226.3 345.3 L228.3 343.5 L230.3 341.6 L232.4 339.8 L234.4 337.9 L236.4 336.1 L238.4 334.3 L240.4 332.4 L242.4 330.6 L244.4 328.8 L246.4 326.9 L248.4 325.1 L250.4 323.3 L252.4 321.4 L254.4 319.6 L256.4 317.8 L258.4 315.9 L260.5 314.1 L262.5 312.3 L264.5 310.4 L266.5 308.6 L268.5 306.7 L270.5 304.9 L272.5 303.1 L274.5 301.2 L276.5 299.5 L278.5 297.7 L280.5 296.0 L282.5 294.3 L284.5 292.7 L286.5 291.1 L288.6 289.6 L290.6 288.1 L292.6 286.6 L294.6 285.2 L296.6 283.9 L298.6 282.5 L300.6 281.3 L302.6 280.0 L304.6 278.8 L306.6 277.5 L308.6 276.3 L310.6 275.2 L312.6 274.0 L314.6 272.9 L316.7 271.7 L318.7 270.6 L320.7 269.5 L322.7 268.4 L324.7 267.3 L326.7 266.1 L328.7 265.0" stroke="#ff0000" stroke-width="1.7" fill="none" stroke-dasharray="7 7.7" stroke-dashoffset="6.5"/>
<path d="M169.1 396.7 L171.1 395.2 L173.1 393.6 L175.1 392.0 L177.1 390.3 L179.1 388.7 L181.1 386.9 L183.1 385.2 L185.1 383.4 L187.1 381.6 L189.1 379.8 L190.0 379.0 L190.0 379.0 L190.2 378.8 L192.2 377.0 L194.2 375.2 L196.2 373.4 L198.2 371.6 L200.2 369.7 L202.2 367.9 L204.3 366.0 L206.3 364.1 L208.3 362.2 L210.3 360.3 L212.3 358.5 L214.3 356.6 L216.3 354.7 L218.3 352.8 L220.3 350.9 L222.3 349.1 L224.3 347.2 L226.3 345.3 L228.3 343.5 L230.3 341.6 L232.4 339.8 L234.4 337.9 L236.4 336.1 L238.4 334.3 L240.4 332.4 L242.4 330.6 L244.4 328.8 L246.4 326.9 L248.4 325.1 L250.4 323.3 L252.4 321.4 L254.4 319.6 L256.4 317.8 L258.4 315.9 L260.5 314.1 L262.5 312.3 L264.5 310.4 L264.6 310.3 L264.6 310.8 L266.6 308.8 L268.6 306.9 L270.6 305.1 L272.7 303.4 L274.7 301.8 L276.7 300.3 L278.7 298.9 L280.7 297.6 L282.7 296.4 L284.7 295.3 L286.8 294.2 L288.8 293.3 L290.8 292.4 L292.8 291.5 L294.8 290.8 L296.8 290.1 L298.8 289.5 L300.8 288.9 L302.9 288.4 L304.9 287.9 L306.9 287.5 L308.9 287.1 L310.9 286.8 L312.9 286.5 L314.9 286.3 L317.0 286.0 L319.0 285.8 L321.0 285.7 L323.0 285.5" stroke="#00803f" stroke-width="1.4" fill="none" stroke-dasharray="1.6 7.1" stroke-dashoffset="0.8" transform="translate(0.3 0.35)"/>
<path d="M169.1 396.7 L171.1 395.2 L173.1 393.6 L175.1 392.0 L177.1 390.3 L179.1 388.7 L181.1 386.9 L183.1 385.2 L185.1 383.4 L187.1 381.6 L189.1 379.8 L190.0 379.0 L190.0 379.0 L190.2 378.8 L192.2 377.0 L194.2 375.2 L196.2 373.4 L198.2 371.6 L200.2 369.7 L202.2 367.9 L204.3 366.0 L206.3 364.1 L208.3 362.2 L210.3 360.3 L212.3 358.5 L214.3 356.6 L216.3 354.7 L218.3 352.8 L220.3 350.9 L222.3 349.1 L224.3 347.2 L226.3 345.3 L228.3 343.5 L230.3 341.6 L232.4 339.8 L234.4 337.9 L236.4 336.1 L238.4 334.3 L240.4 332.4 L242.4 330.6 L244.4 328.8 L246.4 326.9 L248.4 325.1 L250.4 323.3 L252.4 321.4 L254.4 319.6 L255.0 319.1 L255.0 320.2 L257.0 318.1 L259.1 316.2 L261.1 314.2 L263.1 312.3 L265.1 310.5 L267.2 308.7 L269.2 307.0 L271.2 305.3 L273.2 303.8 L275.3 302.4 L277.3 301.0 L279.3 299.8 L281.3 298.7 L283.4 297.6 L285.4 296.7 L287.4 295.9 L289.4 295.1 L291.5 294.5 L293.5 293.9 L295.5 293.4 L297.5 293.0 L299.6 292.6 L301.6 292.3 L303.6 292.0 L305.6 291.8 L307.7 291.6 L309.7 291.5 L311.7 291.4 L313.7 291.3 L315.8 291.2 L317.8 291.1 L319.8 291.0 L321.8 290.9 L323.9 290.8 L325.9 290.7" stroke="#0000ff" stroke-width="1.8" fill="none" stroke-dasharray="8.9 3.8 2.1 3.9" stroke-dashoffset="0" transform="translate(0.3 0.35)"/>
<path d="M169.1 396.7 L171.1 395.2 L173.1 393.6 L175.1 392.0 L177.1 390.3 L179.1 388.7 L181.1 386.9 L183.1 385.2 L185.1 383.4 L187.1 381.6 L189.1 379.8 L190.0 379.0 L190.0 379.0 L190.2 378.8 L192.2 377.0 L194.2 375.2 L196.2 373.4 L198.2 371.6 L200.2 369.7 L202.2 367.9 L204.3 366.0 L206.3 364.1 L208.3 362.2 L210.3 360.3 L212.3 358.5 L214.3 356.6 L216.3 354.7 L218.3 352.8 L220.3 350.9 L222.3 349.1 L224.3 347.2 L226.3 345.3 L228.3 343.5 L230.3 341.6 L232.4 339.8 L234.4 337.9 L236.4 336.1 L238.4 334.3 L240.4 332.4 L242.4 330.6 L244.4 328.8 L245.0 328.2 L245.0 329.3 L247.0 327.4 L249.0 325.5 L251.0 323.6 L253.0 321.8 L255.0 320.1 L257.0 318.4 L259.0 316.7 L261.0 315.2 L263.0 313.6 L265.1 312.2 L267.1 310.8 L269.1 309.5 L271.1 308.3 L273.1 307.1 L275.1 306.0 L277.1 305.0 L279.1 304.1 L281.1 303.2 L283.1 302.4 L285.1 301.7 L287.1 301.0 L289.1 300.4 L291.1 299.9 L293.1 299.4 L295.1 299.0 L297.1 298.6 L299.1 298.3 L301.1 298.1 L303.1 297.8 L305.1 297.6 L307.2 297.5 L309.2 297.3 L311.2 297.2 L313.2 297.1 L315.2 297.1 L317.2 297.0 L319.2 296.9 L321.2 296.8 L323.2 296.8 L325.2 296.7" stroke="#00ffff" stroke-width="1.8" fill="none" stroke-dasharray="6.3 4.2 1.9 4.1 1.9 3.7" stroke-dashoffset="-3.5" transform="translate(0.3 0.35)"/>
<path d="M243.8 378.0H272.6" stroke="#000" stroke-width="1.8"/>
<text x="275.5" y="382.3" font-size="12.2">literature</text>
<path d="M243.8 393.3H272.6" stroke="#ff0000" stroke-width="1.7" stroke-dasharray="7 7.7"/>
<text x="275.5" y="397.6" font-size="12.2">numerical</text>
<path d="M243.8 410.4H272.6" stroke="#00803f" stroke-width="1.4" stroke-dasharray="1.5 5.3"/>
<text x="275.5" y="414.7" font-size="12.2">appr. <tspan font-style="italic" dx="0.9">O</tspan><tspan dx="-0.9">(</tspan><tspan font-family="Liberation Serif" font-size="13">ε</tspan><tspan dy="-4.4" font-size="9">8</tspan><tspan dy="4.4">)</tspan></text>
<path d="M243.8 427.4H272.6" stroke="#0000ff" stroke-width="1.8" stroke-dasharray="8.9 3.8 2.1 3.9"/>
<text x="275.5" y="431.7" font-size="12.2">appr. <tspan font-style="italic" dx="0.9">O</tspan><tspan dx="-0.9">(</tspan><tspan font-family="Liberation Serif" font-size="13">ε</tspan><tspan dy="-4.4" font-size="9">4</tspan><tspan dy="4.4">)</tspan></text>
<path d="M243.8 444.5H272.6" stroke="#00ffff" stroke-width="1.8" stroke-dasharray="6.3 4.2 1.9 4.1 1.9 3.7"/>
<text x="275.5" y="448.8" font-size="12.2">appr. <tspan font-style="italic" dx="0.9">O</tspan><tspan dx="-0.9">(</tspan><tspan font-family="Liberation Serif" font-size="13">ε</tspan><tspan dy="-4.4" font-size="9">2</tspan><tspan dy="4.4">)</tspan></text></g>
<g><path d="M386.35 456.50v-2.10M386.35 246.20v2.10M389.02 456.50v-2.10M389.02 246.20v2.10M391.33 456.50v-2.10M391.33 246.20v2.10M393.37 456.50v-2.10M393.37 246.20v2.10M395.20 456.50v-3.70M395.20 246.20v3.70M407.21 456.50v-2.10M407.21 246.20v2.10M414.24 456.50v-2.10M414.24 246.20v2.10M419.22 456.50v-2.10M419.22 246.20v2.10M423.09 456.50v-2.10M423.09 246.20v2.10M426.25 456.50v-2.10M426.25 246.20v2.10M428.92 456.50v-2.10M428.92 246.20v2.10M431.23 456.50v-2.10M431.23 246.20v2.10M433.27 456.50v-2.10M433.27 246.20v2.10M435.10 456.50v-3.70M435.10 246.20v3.70M447.11 456.50v-2.10M447.11 246.20v2.10M454.14 456.50v-2.10M454.14 246.20v2.10M459.12 456.50v-2.10M459.12 246.20v2.10M462.99 456.50v-2.10M462.99 246.20v2.10M466.15 456.50v-2.10M466.15 246.20v2.10M468.82 456.50v-2.10M468.82 246.20v2.10M471.13 456.50v-2.10M471.13 246.20v2.10M473.17 456.50v-2.10M473.17 246.20v2.10M475.00 456.50v-3.70M475.00 246.20v3.70M487.01 456.50v-2.10M487.01 246.20v2.10M494.04 456.50v-2.10M494.04 246.20v2.10M499.02 456.50v-2.10M499.02 246.20v2.10M502.89 456.50v-2.10M502.89 246.20v2.10M506.05 456.50v-2.10M506.05 246.20v2.10M508.72 456.50v-2.10M508.72 246.20v2.10M511.03 456.50v-2.10M511.03 246.20v2.10M513.07 456.50v-2.10M513.07 246.20v2.10M514.90 456.50v-3.70M514.90 246.20v3.70M526.91 456.50v-2.10M526.91 246.20v2.10M533.94 456.50v-2.10M533.94 246.20v2.10M538.92 456.50v-2.10M538.92 246.20v2.10M542.79 456.50v-2.10M542.79 246.20v2.10M545.95 456.50v-2.10M545.95 246.20v2.10M548.62 456.50v-2.10M548.62 246.20v2.10M550.93 456.50v-2.10M550.93 246.20v2.10M552.97 456.50v-2.10M552.97 246.20v2.10M554.80 456.50v-3.70M554.80 246.20v3.70M566.81 456.50v-2.10M566.81 246.20v2.10M573.84 456.50v-2.10M573.84 246.20v2.10M578.82 456.50v-2.10M578.82 246.20v2.10M582.69 456.50v-2.10M582.69 246.20v2.10M585.85 456.50v-2.10M585.85 246.20v2.10M588.52 456.50v-2.10M588.52 246.20v2.10M590.83 456.50v-2.10M590.83 246.20v2.10M592.87 456.50v-2.10M592.87 246.20v2.10M594.70 456.50v-3.70M594.70 246.20v3.70M606.71 456.50v-2.10M606.71 246.20v2.10M613.74 456.50v-2.10M613.74 246.20v2.10M618.72 456.50v-2.10M618.72 246.20v2.10M622.59 456.50v-2.10M622.59 246.20v2.10M625.75 456.50v-2.10M625.75 246.20v2.10M628.42 456.50v-2.10M628.42 246.20v2.10M630.73 456.50v-2.10M630.73 246.20v2.10M632.77 456.50v-2.10M632.77 246.20v2.10M634.60 456.50v-3.70M634.60 246.20v3.70M646.61 456.50v-2.10M646.61 246.20v2.10M653.64 456.50v-2.10M653.64 246.20v2.10M658.62 456.50v-2.10M658.62 246.20v2.10M662.49 456.50v-2.10M662.49 246.20v2.10M665.65 456.50v-2.10M665.65 246.20v2.10M668.32 456.50v-2.10M668.32 246.20v2.10M670.63 456.50v-2.10M670.63 246.20v2.10M672.67 456.50v-2.10M672.67 246.20v2.10M674.50 456.50v-3.70M674.50 246.20v3.70M383.30 451.23h2.10M684.10 451.23h-2.10M383.30 448.15h2.10M684.10 448.15h-2.10M383.30 445.96h2.10M684.10 445.96h-2.10M383.30 444.27h2.10M684.10 444.27h-2.10M383.30 442.88h2.10M684.10 442.88h-2.10M383.30 441.71h2.10M684.10 441.71h-2.10M383.30 440.70h2.10M684.10 440.70h-2.10M383.30 439.80h2.10M684.10 439.80h-2.10M383.30 439.00h3.70M684.10 439.00h-3.70M383.30 433.73h2.10M684.10 433.73h-2.10M383.30 430.65h2.10M684.10 430.65h-2.10M383.30 428.46h2.10M684.10 428.46h-2.10M383.30 426.77h2.10M684.10 426.77h-2.10M383.30 425.38h2.10M684.10 425.38h-2.10M383.30 424.21h2.10M684.10 424.21h-2.10M383.30 423.20h2.10M684.10 423.20h-2.10M383.30 422.30h2.10M684.10 422.30h-2.10M383.30 421.50h3.70M684.10 421.50h-3.70M383.30 416.23h2.10M684.10 416.23h-2.10M383.30 413.15h2.10M684.10 413.15h-2.10M383.30 410.96h2.10M684.10 410.96h-2.10M383.30 409.27h2.10M684.10 409.27h-2.10M383.30 407.88h2.10M684.10 407.88h-2.10M383.30 406.71h2.10M684.10 406.71h-2.10M383.30 405.70h2.10M684.10 405.70h-2.10M383.30 404.80h2.10M684.10 404.80h-2.10M383.30 404.00h3.70M684.10 404.00h-3.70M383.30 398.73h2.10M684.10 398.73h-2.10M383.30 395.65h2.10M684.10 395.65h-2.10M383.30 393.46h2.10M684.10 393.46h-2.10M383.30 391.77h2.10M684.10 391.77h-2.10M383.30 390.38h2.10M684.10 390.38h-2.10M383.30 389.21h2.10M684.10 389.21h-2.10M383.30 388.20h2.10M684.10 388.20h-2.10M383.30 387.30h2.10M684.10 387.30h-2.10M383.30 386.50h3.70M684.10 386.50h-3.70M383.30 381.23h2.10M684.10 381.23h-2.10M383.30 378.15h2.10M684.10 378.15h-2.10M383.30 375.96h2.10M684.10 375.96h-2.10M383.30 374.27h2.10M684.10 374.27h-2.10M383.30 372.88h2.10M684.10 372.88h-2.10M383.30 371.71h2.10M684.10 371.71h-2.10M383.30 370.70h2.10M684.10 370.70h-2.10M383.30 369.80h2.10M684.10 369.80h-2.10M383.30 369.00h3.70M684.10 369.00h-3.70M383.30 363.73h2.10M684.10 363.73h-2.10M383.30 360.65h2.10M684.10 360.65h-2.10M383.30 358.46h2.10M684.10 358.46h-2.10M383.30 356.77h2.10M684.10 356.77h-2.10M383.30 355.38h2.10M684.10 355.38h-2.10M383.30 354.21h2.10M684.10 354.21h-2.10M383.30 353.20h2.10M684.10 353.20h-2.10M383.30 352.30h2.10M684.10 352.30h-2.10M383.30 351.50h3.70M684.10 351.50h-3.70M383.30 346.23h2.10M684.10 346.23h-2.10M383.30 343.15h2.10M684.10 343.15h-2.10M383.30 340.96h2.10M684.10 340.96h-2.10M383.30 339.27h2.10M684.10 339.27h-2.10M383.30 337.88h2.10M684.10 337.88h-2.10M383.30 336.71h2.10M684.10 336.71h-2.10M383.30 335.70h2.10M684.10 335.70h-2.10M383.30 334.80h2.10M684.10 334.80h-2.10M383.30 334.00h3.70M684.10 334.00h-3.70M383.30 328.73h2.10M684.10 328.73h-2.10M383.30 325.65h2.10M684.10 325.65h-2.10M383.30 323.46h2.10M684.10 323.46h-2.10M383.30 321.77h2.10M684.10 321.77h-2.10M383.30 320.38h2.10M684.10 320.38h-2.10M383.30 319.21h2.10M684.10 319.21h-2.10M383.30 318.20h2.10M684.10 318.20h-2.10M383.30 317.30h2.10M684.10 317.30h-2.10M383.30 316.50h3.70M684.10 316.50h-3.70M383.30 311.23h2.10M684.10 311.23h-2.10M383.30 308.15h2.10M684.10 308.15h-2.10M383.30 305.96h2.10M684.10 305.96h-2.10M383.30 304.27h2.10M684.10 304.27h-2.10M383.30 302.88h2.10M684.10 302.88h-2.10M383.30 301.71h2.10M684.10 301.71h-2.10M383.30 300.70h2.10M684.10 300.70h-2.10M383.30 299.80h2.10M684.10 299.80h-2.10M383.30 299.00h3.70M684.10 299.00h-3.70M383.30 293.73h2.10M684.10 293.73h-2.10M383.30 290.65h2.10M684.10 290.65h-2.10M383.30 288.46h2.10M684.10 288.46h-2.10M383.30 286.77h2.10M684.10 286.77h-2.10M383.30 285.38h2.10M684.10 285.38h-2.10M383.30 284.21h2.10M684.10 284.21h-2.10M383.30 283.20h2.10M684.10 283.20h-2.10M383.30 282.30h2.10M684.10 282.30h-2.10M383.30 281.50h3.70M684.10 281.50h-3.70M383.30 276.23h2.10M684.10 276.23h-2.10M383.30 273.15h2.10M684.10 273.15h-2.10M383.30 270.96h2.10M684.10 270.96h-2.10M383.30 269.27h2.10M684.10 269.27h-2.10M383.30 267.88h2.10M684.10 267.88h-2.10M383.30 266.71h2.10M684.10 266.71h-2.10M383.30 265.70h2.10M684.10 265.70h-2.10M383.30 264.80h2.10M684.10 264.80h-2.10M383.30 264.00h3.70M684.10 264.00h-3.70M383.30 258.73h2.10M684.10 258.73h-2.10M383.30 255.65h2.10M684.10 255.65h-2.10M383.30 253.46h2.10M684.10 253.46h-2.10M383.30 251.77h2.10M684.10 251.77h-2.10M383.30 250.38h2.10M684.10 250.38h-2.10M383.30 249.21h2.10M684.10 249.21h-2.10M383.30 248.20h2.10M684.10 248.20h-2.10M383.30 247.30h2.10M684.10 247.30h-2.10" stroke="#000" stroke-width="1.05" fill="none"/>
<rect x="383.30" y="246.20" width="300.80" height="210.30" fill="none" stroke="#111" stroke-width="1.00"/>
<path d="M763 0H583V1147Q518 1085 412.5 1023T223 930V1104Q374 1175 487 1276T647 1472H763Z" transform="translate(385.64 471.50) scale(0.00518 -0.00518)" fill="#000" stroke="#000" stroke-width="40"/><text x="391.53" y="471.50" font-size="10.6">0</text><text x="397.43" y="466.90" font-size="7.8">-3</text>
<path d="M763 0H583V1147Q518 1085 412.5 1023T223 930V1104Q374 1175 487 1276T647 1472H763Z" transform="translate(425.54 471.50) scale(0.00518 -0.00518)" fill="#000" stroke="#000" stroke-width="40"/><text x="431.43" y="471.50" font-size="10.6">0</text><text x="437.33" y="466.90" font-size="7.8">-2</text>
<path d="M763 0H583V1147Q518 1085 412.5 1023T223 930V1104Q374 1175 487 1276T647 1472H763Z" transform="translate(465.44 471.50) scale(0.00518 -0.00518)" fill="#000" stroke="#000" stroke-width="40"/><text x="471.33" y="471.50" font-size="10.6">0</text><text x="477.23" y="466.90" font-size="7.8">-</text><path d="M763 0H583V1147Q518 1085 412.5 1023T223 930V1104Q374 1175 487 1276T647 1472H763Z" transform="translate(479.82 466.90) scale(0.00381 -0.00381)" fill="#000" stroke="#000" stroke-width="40"/>
<path d="M763 0H583V1147Q518 1085 412.5 1023T223 930V1104Q374 1175 487 1276T647 1472H763Z" transform="translate(506.64 471.50) scale(0.00518 -0.00518)" fill="#000" stroke="#000" stroke-width="40"/><text x="512.53" y="471.50" font-size="10.6">0</text><text x="518.43" y="466.90" font-size="7.8">0</text>
<path d="M763 0H583V1147Q518 1085 412.5 1023T223 930V1104Q374 1175 487 1276T647 1472H763Z" transform="translate(546.54 471.50) scale(0.00518 -0.00518)" fill="#000" stroke="#000" stroke-width="40"/><text x="552.43" y="471.50" font-size="10.6">0</text><path d="M763 0H583V1147Q518 1085 412.5 1023T223 930V1104Q374 1175 487 1276T647 1472H763Z" transform="translate(558.33 466.90) scale(0.00381 -0.00381)" fill="#000" stroke="#000" stroke-width="40"/>
<path d="M763 0H583V1147Q518 1085 412.5 1023T223 930V1104Q374 1175 487 1276T647 1472H763Z" transform="translate(586.44 471.50) scale(0.00518 -0.00518)" fill="#000" stroke="#000" stroke-width="40"/><text x="592.33" y="471.50" font-size="10.6">0</text><text x="598.23" y="466.90" font-size="7.8">2</text>
<path d="M763 0H583V1147Q518 1085 412.5 1023T223 930V1104Q374 1175 487 1276T647 1472H763Z" transform="translate(626.34 471.50) scale(0.00518 -0.00518)" fill="#000" stroke="#000" stroke-width="40"/><text x="632.23" y="471.50" font-size="10.6">0</text><text x="638.13" y="466.90" font-size="7.8">3</text>
<path d="M763 0H583V1147Q518 1085 412.5 1023T223 930V1104Q374 1175 487 1276T647 1472H763Z" transform="translate(666.24 471.50) scale(0.00518 -0.00518)" fill="#000" stroke="#000" stroke-width="40"/><text x="672.13" y="471.50" font-size="10.6">0</text><text x="678.03" y="466.90" font-size="7.8">4</text>
<path d="M763 0H583V1147Q518 1085 412.5 1023T223 930V1104Q374 1175 487 1276T647 1472H763Z" transform="translate(355.94 460.20) scale(0.00518 -0.00518)" fill="#000" stroke="#000" stroke-width="40"/><text x="361.84" y="460.20" font-size="10.6">0</text><text x="367.73" y="455.60" font-size="7.8">-</text><path d="M763 0H583V1147Q518 1085 412.5 1023T223 930V1104Q374 1175 487 1276T647 1472H763Z" transform="translate(370.33 455.60) scale(0.00381 -0.00381)" fill="#000" stroke="#000" stroke-width="40"/><text x="374.66" y="455.60" font-size="7.8">0</text>
<path d="M763 0H583V1147Q518 1085 412.5 1023T223 930V1104Q374 1175 487 1276T647 1472H763Z" transform="translate(360.28 425.20) scale(0.00518 -0.00518)" fill="#000" stroke="#000" stroke-width="40"/><text x="366.17" y="425.20" font-size="10.6">0</text><text x="372.07" y="420.60" font-size="7.8">-8</text>
<path d="M763 0H583V1147Q518 1085 412.5 1023T223 930V1104Q374 1175 487 1276T647 1472H763Z" transform="translate(360.28 390.20) scale(0.00518 -0.00518)" fill="#000" stroke="#000" stroke-width="40"/><text x="366.17" y="390.20" font-size="10.6">0</text><text x="372.07" y="385.60" font-size="7.8">-6</text>
<path d="M763 0H583V1147Q518 1085 412.5 1023T223 930V1104Q374 1175 487 1276T647 1472H763Z" transform="translate(360.28 355.20) scale(0.00518 -0.00518)" fill="#000" stroke="#000" stroke-width="40"/><text x="366.17" y="355.20" font-size="10.6">0</text><text x="372.07" y="350.60" font-size="7.8">-4</text>
<path d="M763 0H583V1147Q518 1085 412.5 1023T223 930V1104Q374 1175 487 1276T647 1472H763Z" transform="translate(360.28 320.20) scale(0.00518 -0.00518)" fill="#000" stroke="#000" stroke-width="40"/><text x="366.17" y="320.20" font-size="10.6">0</text><text x="372.07" y="315.60" font-size="7.8">-2</text>
<path d="M763 0H583V1147Q518 1085 412.5 1023T223 930V1104Q374 1175 487 1276T647 1472H763Z" transform="translate(362.88 285.20) scale(0.00518 -0.00518)" fill="#000" stroke="#000" stroke-width="40"/><text x="368.77" y="285.20" font-size="10.6">0</text><text x="374.66" y="280.60" font-size="7.8">0</text>
<path d="M763 0H583V1147Q518 1085 412.5 1023T223 930V1104Q374 1175 487 1276T647 1472H763Z" transform="translate(362.88 250.20) scale(0.00518 -0.00518)" fill="#000" stroke="#000" stroke-width="40"/><text x="368.77" y="250.20" font-size="10.6">0</text><text x="374.66" y="245.60" font-size="7.8">2</text>
<text x="406.7" y="276.4" font-size="13.1" font-weight="bold">bone</text>
<text x="534.3" y="490.8" text-anchor="middle" font-size="14.4"><tspan font-style="italic">E</tspan><tspan dy="4.4" font-size="10.2">0</tspan><tspan dy="-4.4">(MeV)</tspan></text>
<path d="M394.2 425.3 L396.2 424.1 L398.2 422.9 L400.2 421.7 L402.2 420.6 L404.2 419.4 L406.2 418.3 L408.2 417.2 L410.2 416.2 L412.3 415.1 L414.3 414.1 L416.3 413.1 L418.3 412.1 L420.3 411.1 L422.3 410.2 L424.3 409.3 L426.3 408.3 L428.3 407.4 L430.3 406.6 L432.3 405.7 L434.3 404.8 L436.3 404.0 L438.3 403.2 L440.3 402.4 L442.3 401.6 L444.3 400.8 L446.3 400.0 L448.4 399.3 L450.4 398.5 L452.4 397.8 L454.4 397.0 L456.4 396.3 L458.4 395.6 L460.4 394.9 L462.4 394.2 L464.4 393.4 L466.4 392.7 L468.4 391.9 L470.4 391.1 L472.4 390.3 L474.4 389.5 L476.4 388.6 L478.4 387.7 L480.4 386.8 L482.5 385.8 L484.5 384.8 L486.5 383.8 L488.5 382.7 L490.5 381.7 L492.5 380.6 L494.5 379.4 L496.5 378.3 L498.5 377.1 L500.5 375.9 L502.5 374.7 L504.5 373.4 L506.5 372.1 L508.5 370.9 L510.5 369.5 L512.5 368.2 L514.5 366.9 L516.5 365.5 L518.6 364.1 L520.6 362.7 L522.6 361.3 L524.6 359.9 L526.6 358.5 L528.6 357.0 L530.6 355.5 L532.6 354.1 L534.6 352.6 L536.6 351.1 L538.6 349.5 L540.6 348.0 L542.6 346.5 L544.6 344.9 L546.6 343.4 L548.6 341.8 L550.6 340.2 L552.7 338.7 L554.7 337.1 L556.7 335.5 L558.7 333.9 L560.7 332.3 L562.7 330.7 L564.7 329.1 L566.7 327.5 L568.7 325.9 L570.7 324.2 L572.7 322.6 L574.7 321.0 L576.7 319.4 L578.7 317.8 L580.7 316.2 L582.7 314.6 L584.7 313.0 L586.7 311.4 L588.8 309.8 L590.8 308.2 L592.8 306.6 L594.8 305.0 L596.8 303.4 L598.8 301.9 L600.8 300.3 L602.8 298.8 L604.8 297.3 L606.8 295.7 L608.8 294.2 L610.8 292.8 L612.8 291.3 L614.8 289.8 L616.8 288.4 L618.8 287.0 L620.8 285.6 L622.9 284.2 L624.9 282.9 L626.9 281.5 L628.9 280.2 L630.9 278.9 L632.9 277.7 L634.9 276.5 L636.9 275.2 L638.9 274.1 L640.9 272.9 L642.9 271.7 L644.9 270.6 L646.9 269.5 L648.9 268.4 L650.9 267.3 L652.9 266.2 L654.9 265.2 L656.9 264.1 L659.0 263.1 L661.0 262.1 L663.0 261.1 L665.0 260.1 L667.0 259.0 L669.0 258.0 L671.0 257.0 L673.0 256.0 L675.0 255.0" stroke="#000" stroke-width="1.8" fill="none" stroke-linejoin="round"/>
<path d="M514.5 366.9 L514.5 366.9 L516.5 365.5 L518.6 364.1 L520.6 362.7 L522.6 361.3 L524.6 359.9 L526.6 358.5 L528.6 357.0 L530.6 355.5 L532.6 354.1 L534.6 352.6 L536.6 351.1 L538.6 349.5 L540.6 348.0 L542.6 346.5 L544.6 344.9 L546.6 343.4 L548.6 341.8 L550.6 340.2 L552.7 338.7 L554.7 337.1 L556.7 335.5 L558.7 333.9 L560.7 332.3 L562.7 330.7 L564.7 329.1 L566.7 327.5 L568.7 325.9 L570.7 324.2 L572.7 322.6 L574.7 321.0 L576.7 319.4 L578.7 317.8 L580.7 316.2 L582.7 314.6 L584.7 313.0 L586.7 311.4 L588.8 309.8 L590.8 308.2 L592.8 306.6 L594.8 305.0 L596.8 303.4 L598.8 301.9 L600.8 300.3 L602.8 298.8 L604.8 297.3 L606.8 295.7 L608.8 294.2 L610.8 292.8 L612.8 291.3 L614.8 289.8 L616.8 288.4 L618.8 287.0 L620.8 285.6 L622.9 284.2 L624.9 282.9 L626.9 281.5 L628.9 280.2 L630.9 278.9 L632.9 277.7 L634.9 276.5 L636.9 275.2 L638.9 274.1 L640.9 272.9 L642.9 271.7 L644.9 270.6 L646.9 269.5 L648.9 268.4 L650.9 267.3 L652.9 266.2 L654.9 265.2 L656.9 264.1 L659.0 263.1 L661.0 262.1 L663.0 261.1 L665.0 260.1 L667.0 259.0 L669.0 258.0 L671.0 257.0 L673.0 256.0 L675.0 255.0" stroke="#ff0000" stroke-width="1.7" fill="none" stroke-dasharray="7 7.7" stroke-dashoffset="0"/>
<path d="M514.1 367.2 L516.1 365.8 L518.1 364.5 L520.1 363.1 L522.1 361.7 L524.1 360.2 L526.1 358.8 L527.0 358.2 L527.0 358.2 L528.6 357.0 L530.6 355.5 L532.6 354.1 L534.6 352.6 L536.6 351.1 L538.6 349.5 L540.6 348.0 L542.6 346.5 L544.6 344.9 L546.6 343.4 L548.6 341.8 L550.6 340.2 L552.7 338.7 L554.7 337.1 L556.7 335.5 L558.7 333.9 L560.7 332.3 L562.7 330.7 L564.7 329.1 L566.7 327.5 L568.7 325.9 L570.7 324.2 L572.7 322.6 L574.7 321.0 L576.7 319.4 L578.7 317.8 L580.7 316.2 L582.7 314.6 L584.7 313.0 L586.7 311.4 L588.8 309.8 L590.8 308.2 L592.8 306.6 L594.8 305.0 L596.8 303.4 L598.8 301.9 L600.8 300.3 L602.8 298.8 L604.8 297.3 L606.8 295.7 L608.8 294.2 L610.8 292.8 L612.8 291.3 L614.8 289.8 L616.8 288.4 L617.9 287.7 L617.9 288.0 L620.0 286.6 L622.0 285.2 L624.1 284.0 L626.1 282.8 L628.2 281.7 L630.2 280.7 L632.3 279.8 L634.3 279.0 L636.4 278.3 L638.4 277.6 L640.5 277.0 L642.5 276.4 L644.6 275.9 L646.6 275.5 L648.7 275.1 L650.7 274.8 L652.8 274.5 L654.8 274.3 L656.9 274.0 L658.9 273.9 L661.0 273.7 L663.0 273.6 L665.1 273.4 L667.1 273.3 L669.2 273.3 L671.2 273.2 L673.3 273.1" stroke="#00803f" stroke-width="1.4" fill="none" stroke-dasharray="1.5 2.08" stroke-dashoffset="0" transform="translate(0.3 0.35)"/>
<path d="M514.1 367.2 L516.1 365.8 L518.1 364.5 L520.1 363.1 L522.1 361.7 L524.1 360.2 L526.1 358.8 L527.0 358.2 L527.0 358.2 L528.6 357.0 L530.6 355.5 L532.6 354.1 L534.6 352.6 L536.6 351.1 L538.6 349.5 L540.6 348.0 L542.6 346.5 L544.6 344.9 L546.6 343.4 L548.6 341.8 L550.6 340.2 L552.7 338.7 L554.7 337.1 L556.7 335.5 L558.7 333.9 L560.7 332.3 L562.7 330.7 L564.7 329.1 L566.7 327.5 L568.7 325.9 L570.7 324.2 L572.7 322.6 L574.7 321.0 L576.7 319.4 L578.7 317.8 L580.7 316.2 L582.7 314.6 L584.7 313.0 L586.7 311.4 L588.8 309.8 L590.8 308.2 L592.8 306.6 L594.8 305.0 L596.8 303.4 L598.8 301.9 L600.8 300.3 L602.8 298.8 L603.9 297.9 L603.9 298.5 L605.9 296.9 L608.0 295.4 L610.0 293.9 L612.1 292.5 L614.1 291.1 L616.2 289.8 L618.2 288.5 L620.3 287.3 L622.3 286.2 L624.4 285.2 L626.4 284.2 L628.5 283.3 L630.5 282.5 L632.6 281.8 L634.6 281.1 L636.6 280.6 L638.7 280.0 L640.7 279.6 L642.8 279.2 L644.8 278.9 L646.9 278.7 L648.9 278.4 L651.0 278.3 L653.0 278.1 L655.1 278.0 L657.1 277.9 L659.2 277.8 L661.2 277.8 L663.3 277.7 L665.3 277.6 L667.4 277.6 L669.4 277.5" stroke="#0000ff" stroke-width="1.8" fill="none" stroke-dasharray="8.9 3.8 2.1 3.9" stroke-dashoffset="0" transform="translate(0.3 0.35)"/>
<path d="M514.1 367.2 L516.1 365.8 L518.1 364.5 L520.1 363.1 L522.1 361.7 L524.1 360.2 L526.1 358.8 L527.0 358.2 L527.0 358.2 L528.6 357.0 L530.6 355.5 L532.6 354.1 L534.6 352.6 L536.6 351.1 L538.6 349.5 L540.6 348.0 L542.6 346.5 L544.6 344.9 L546.6 343.4 L548.6 341.8 L550.6 340.2 L552.7 338.7 L554.7 337.1 L556.7 335.5 L558.7 333.9 L560.7 332.3 L562.7 330.7 L564.7 329.1 L566.7 327.5 L568.7 325.9 L570.7 324.2 L572.7 322.6 L574.7 321.0 L576.7 319.4 L578.7 317.8 L580.7 316.2 L582.7 314.6 L584.7 313.0 L586.7 311.4 L588.8 309.8 L590.0 308.8 L590.0 309.6 L592.0 308.0 L594.0 306.4 L596.1 304.9 L598.1 303.4 L600.1 301.9 L602.1 300.6 L604.1 299.2 L606.2 297.9 L608.2 296.7 L610.2 295.5 L612.2 294.4 L614.2 293.3 L616.3 292.3 L618.3 291.4 L620.3 290.5 L622.3 289.6 L624.3 288.8 L626.4 288.1 L628.4 287.4 L630.4 286.7 L632.4 286.2 L634.4 285.7 L636.5 285.2 L638.5 284.8 L640.5 284.4 L642.5 284.1 L644.5 283.9 L646.6 283.6 L648.6 283.4 L650.6 283.2 L652.6 283.1 L654.6 282.9 L656.7 282.8 L658.7 282.7 L660.7 282.6 L662.7 282.5 L664.7 282.5 L666.8 282.4 L668.8 282.3 L670.8 282.2" stroke="#00ffff" stroke-width="1.8" fill="none" stroke-dasharray="6.3 4.2 1.9 4.1 1.9 3.7" stroke-dashoffset="0" transform="translate(0.3 0.35)"/>
<path d="M586.9 374.5H615.6" stroke="#000" stroke-width="1.8"/>
<text x="618.6" y="378.8" font-size="12.2">literature</text>
<path d="M586.9 390.4H615.6" stroke="#ff0000" stroke-width="1.7" stroke-dasharray="7 7.7"/>
<text x="618.6" y="394.7" font-size="12.2">numerical</text>
<path d="M586.9 407.1H615.6" stroke="#00803f" stroke-width="1.4" stroke-dasharray="1.5 2.08"/>
<text x="618.6" y="411.4" font-size="12.2">appr. <tspan font-style="italic" dx="0.9">O</tspan><tspan dx="-0.9">(</tspan><tspan font-family="Liberation Serif" font-size="13">ε</tspan><tspan dy="-4.4" font-size="9">8</tspan><tspan dy="4.4">)</tspan></text>
<path d="M586.9 424.0H615.6" stroke="#0000ff" stroke-width="1.8" stroke-dasharray="8.9 3.8 2.1 3.9"/>
<text x="618.6" y="428.3" font-size="12.2">appr. <tspan font-style="italic" dx="0.9">O</tspan><tspan dx="-0.9">(</tspan><tspan font-family="Liberation Serif" font-size="13">ε</tspan><tspan dy="-4.4" font-size="9">4</tspan><tspan dy="4.4">)</tspan></text>
<path d="M586.9 441.4H615.6" stroke="#00ffff" stroke-width="1.8" stroke-dasharray="6.3 4.2 1.9 4.1 1.9 3.7"/>
<text x="618.6" y="445.7" font-size="12.2">appr. <tspan font-style="italic" dx="0.9">O</tspan><tspan dx="-0.9">(</tspan><tspan font-family="Liberation Serif" font-size="13">ε</tspan><tspan dy="-4.4" font-size="9">2</tspan><tspan dy="4.4">)</tspan></text></g>
</svg>
</body></html>
